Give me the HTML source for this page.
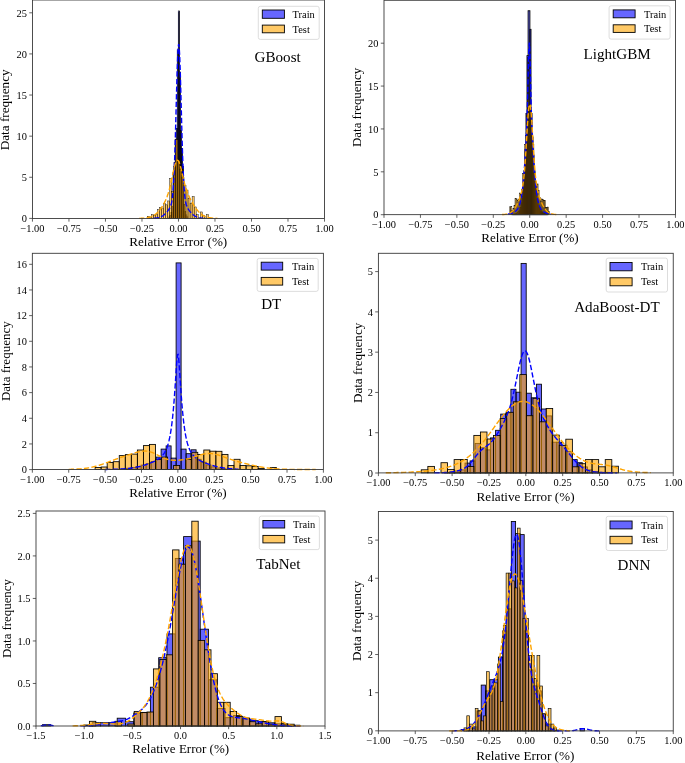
<!DOCTYPE html>
<html><head><meta charset="utf-8"><title>Histograms</title>
<style>
html,body{margin:0;padding:0;background:#fff;}
body{width:685px;height:763px;overflow:hidden;font-family:"Liberation Serif",serif;}
svg{display:block;will-change:transform;font-family:"Liberation Serif",serif;}
.tk text{font-size:10.4px;fill:#000;}
.ax{font-size:13.2px;fill:#000;}
.lg{font-size:10.45px;fill:#000;}
.tt{font-size:15.1px;fill:#000;}
</style></head><body>
<svg width="685" height="763" viewBox="0 0 685 763">
<rect width="685" height="763" fill="#fff"/>
<g>
<clipPath id="c1"><rect x="32.45" y="0" width="292.05" height="218.45"/></clipPath>
<g fill="rgba(0,0,255,0.6)" stroke="#000" stroke-width="0.78"><rect x="178.35" y="11.05" width="1.05" height="207.4"/><rect x="177.3" y="49.95" width="1.05" height="168.5"/><rect x="176.25" y="128.45" width="1.05" height="90"/><rect x="175.2" y="139.45" width="1.05" height="79"/><rect x="174.15" y="162.45" width="1.05" height="56"/><rect x="173.1" y="172.45" width="1.05" height="46"/><rect x="172.05" y="206.45" width="1.05" height="12"/><rect x="171" y="212.45" width="1.05" height="6"/><rect x="169.95" y="215.45" width="1.05" height="3"/><rect x="168.9" y="216.95" width="1.05" height="1.5"/><rect x="179.4" y="72.05" width="1.05" height="146.4"/><rect x="180.45" y="130.45" width="1.05" height="88"/><rect x="181.5" y="148.45" width="1.05" height="70"/><rect x="182.55" y="166.45" width="1.05" height="52"/><rect x="183.6" y="204.45" width="1.05" height="14"/><rect x="184.65" y="211.45" width="1.05" height="7"/><rect x="185.7" y="214.95" width="1.05" height="3.5"/><rect x="186.75" y="216.95" width="1.05" height="1.5"/></g>
<g fill="rgba(255,165,0,0.6)" stroke="#000" stroke-width="0.42"><rect x="147.24" y="216.25" width="2.04" height="2.2"/><rect x="149.28" y="217.65" width="2.04" height="0.8"/><rect x="151.32" y="214.65" width="2.04" height="3.8"/><rect x="153.36" y="215.55" width="2.04" height="2.9"/><rect x="155.4" y="214.65" width="2.04" height="3.8"/><rect x="157.44" y="209.75" width="2.04" height="8.7"/><rect x="159.48" y="207.55" width="2.04" height="10.9"/><rect x="161.52" y="208.05" width="2.04" height="10.4"/><rect x="163.56" y="203.35" width="2.04" height="15.1"/><rect x="165.6" y="204.85" width="2.04" height="13.6"/><rect x="167.64" y="200.95" width="2.04" height="17.5"/><rect x="169.68" y="178.55" width="2.04" height="39.9"/><rect x="171.72" y="191.65" width="2.04" height="26.8"/><rect x="173.76" y="166.45" width="2.04" height="52"/><rect x="175.8" y="139.45" width="2.04" height="79"/><rect x="177.84" y="160.45" width="2.04" height="58"/><rect x="179.88" y="169.75" width="2.04" height="48.7"/><rect x="181.92" y="177.45" width="2.04" height="41"/><rect x="183.96" y="185.65" width="2.04" height="32.8"/><rect x="186" y="190.05" width="2.04" height="28.4"/><rect x="188.04" y="198.25" width="2.04" height="20.2"/><rect x="190.08" y="203.15" width="2.04" height="15.3"/><rect x="192.12" y="196.55" width="2.04" height="21.9"/><rect x="194.16" y="206.95" width="2.04" height="11.5"/><rect x="196.2" y="214.65" width="2.04" height="3.8"/><rect x="198.24" y="217.95" width="2.04" height="0.5"/><rect x="200.28" y="211.95" width="2.04" height="6.5"/><rect x="202.32" y="215.15" width="2.04" height="3.3"/><rect x="204.36" y="217.95" width="2.04" height="0.5"/><rect x="206.4" y="214.65" width="2.04" height="3.8"/><rect x="208.44" y="217.95" width="2.04" height="0.5"/></g>
<polyline fill="none" stroke="#0000ff" stroke-width="1.4" stroke-dasharray="5.3 2.3" points="153.65,218.3 154.15,218.27 154.65,218.24 155.15,218.19 155.65,218.14 156.15,218.08 156.65,218.01 157.15,217.93 157.65,217.84 158.15,217.73 158.65,217.61 159.15,217.47 159.65,217.31 160.15,217.13 160.65,216.93 161.15,216.71 161.65,216.46 162.15,216.18 162.65,215.88 163.15,215.54 163.65,215.18 164.15,214.78 164.65,214.35 165.15,213.89 165.65,213.39 166.15,212.86 166.65,212.3 167.15,211.71 167.65,211.09 168.15,210.44 168.65,209.74 169.15,209 169.65,208.18 170.15,207.23 170.65,206.07 171.15,204.57 171.65,202.53 172.15,199.66 172.65,195.6 173.15,189.94 173.65,182.22 174.15,172.06 174.65,159.25 175.15,143.83 175.65,126.25 176.15,107.37 176.65,88.49 177.15,71.19 177.65,57.11 178.15,47.74 178.65,44.12 179.15,46.68 179.65,55.11 180.15,68.47 180.65,85.34 181.15,104.06 181.65,123.04 182.15,140.92 182.65,156.76 183.15,170.04 183.65,180.64 184.15,188.76 184.65,194.75 185.15,199.05 185.65,202.1 186.15,204.26 186.65,205.84 187.15,207.05 187.65,208.02 188.15,208.86 188.65,209.62 189.15,210.32 189.65,210.98 190.15,211.61 190.65,212.2 191.15,212.77 191.65,213.3 192.15,213.8 192.65,214.27 193.15,214.71 193.65,215.11 194.15,215.48 194.65,215.82 195.15,216.13 195.65,216.41 196.15,216.67 196.65,216.9 197.15,217.1 197.65,217.28 198.15,217.44 198.65,217.59 199.15,217.71 199.65,217.82 200.15,217.92 200.65,218 201.15,218.07 201.65,218.13 202.15,218.18 202.65,218.23 203.15,218.27"/>
<polyline fill="none" stroke="#ffa500" stroke-width="1.4" stroke-dasharray="5.3 2.3" points="139.05,218.37 139.55,218.36 140.05,218.34 140.55,218.33 141.05,218.31 141.55,218.29 142.05,218.26 142.55,218.23 143.05,218.2 143.55,218.16 144.05,218.12 144.55,218.08 145.05,218.02 145.55,217.96 146.05,217.9 146.55,217.82 147.05,217.74 147.55,217.65 148.05,217.55 148.55,217.44 149.05,217.31 149.55,217.17 150.05,217.02 150.55,216.86 151.05,216.68 151.55,216.48 152.05,216.26 152.55,216.03 153.05,215.77 153.55,215.49 154.05,215.2 154.55,214.87 155.05,214.53 155.55,214.16 156.05,213.76 156.55,213.34 157.05,212.89 157.55,212.41 158.05,211.9 158.55,211.37 159.05,210.8 159.55,210.2 160.05,209.58 160.55,208.92 161.05,208.23 161.55,207.51 162.05,206.76 162.55,205.97 163.05,205.15 163.55,204.29 164.05,203.38 164.55,202.43 165.05,201.43 165.55,200.36 166.05,199.23 166.55,198.02 167.05,196.73 167.55,195.33 168.05,193.83 168.55,192.21 169.05,190.47 169.55,188.6 170.05,186.6 170.55,184.49 171.05,182.26 171.55,179.95 172.05,177.58 172.55,175.19 173.05,172.81 173.55,170.5 174.05,168.3 174.55,166.27 175.05,164.46 175.55,162.93 176.05,161.7 176.55,160.83 177.05,160.33 177.55,160.22 178.05,160.49 178.55,161.13 179.05,162.13 179.55,163.43 180.05,165 180.55,166.8 181.05,168.76 181.55,170.85 182.05,172.99 182.55,175.17 183.05,177.32 183.55,179.43 184.05,181.46 184.55,183.4 185.05,185.23 185.55,186.96 186.05,188.58 186.55,190.09 187.05,191.51 187.55,192.84 188.05,194.09 188.55,195.28 189.05,196.4 189.55,197.48 190.05,198.51 190.55,199.5 191.05,200.46 191.55,201.39 192.05,202.29 192.55,203.17 193.05,204.02 193.55,204.84 194.05,205.64 194.55,206.42 195.05,207.17 195.55,207.89 196.05,208.58 196.55,209.25 197.05,209.88 197.55,210.49 198.05,211.07 198.55,211.62 199.05,212.14 199.55,212.64 200.05,213.1 200.55,213.54 201.05,213.95 201.55,214.34 202.05,214.69 202.55,215.03 203.05,215.34 203.55,215.63 204.05,215.89 204.55,216.14 205.05,216.36 205.55,216.57 206.05,216.76 206.55,216.94 207.05,217.1 207.55,217.24 208.05,217.37 208.55,217.49 209.05,217.6 209.55,217.69 210.05,217.78 210.55,217.86 211.05,217.93 211.55,217.99 212.05,218.05 212.55,218.1 213.05,218.14 213.55,218.18 214.05,218.22 214.55,218.25 215.05,218.27 215.55,218.3 216.05,218.32 216.55,218.34 217.05,218.35 217.55,218.37"/>
<g stroke="#3a3a3a" stroke-width="0.8"><line x1="32.45" y1="218.45" x2="32.45" y2="221.65"/><line x1="68.96" y1="218.45" x2="68.96" y2="221.65"/><line x1="105.46" y1="218.45" x2="105.46" y2="221.65"/><line x1="141.97" y1="218.45" x2="141.97" y2="221.65"/><line x1="178.48" y1="218.45" x2="178.48" y2="221.65"/><line x1="214.98" y1="218.45" x2="214.98" y2="221.65"/><line x1="251.49" y1="218.45" x2="251.49" y2="221.65"/><line x1="287.99" y1="218.45" x2="287.99" y2="221.65"/><line x1="324.5" y1="218.45" x2="324.5" y2="221.65"/><line x1="29.25" y1="218.4" x2="32.45" y2="218.4"/><line x1="29.25" y1="177.28" x2="32.45" y2="177.28"/><line x1="29.25" y1="136.16" x2="32.45" y2="136.16"/><line x1="29.25" y1="95.04" x2="32.45" y2="95.04"/><line x1="29.25" y1="53.92" x2="32.45" y2="53.92"/><line x1="29.25" y1="12.8" x2="32.45" y2="12.8"/></g>
<rect x="32.45" y="0" width="292.05" height="218.45" fill="none" stroke="#3a3a3a" stroke-width="0.9"/>
<g class="tk"><text x="32.45" y="231.85" text-anchor="middle">−1.00</text><text x="68.96" y="231.85" text-anchor="middle">−0.75</text><text x="105.46" y="231.85" text-anchor="middle">−0.50</text><text x="141.97" y="231.85" text-anchor="middle">−0.25</text><text x="178.48" y="231.85" text-anchor="middle">0.00</text><text x="214.98" y="231.85" text-anchor="middle">0.25</text><text x="251.49" y="231.85" text-anchor="middle">0.50</text><text x="287.99" y="231.85" text-anchor="middle">0.75</text><text x="324.5" y="231.85" text-anchor="middle">1.00</text><text x="26.95" y="222.1" text-anchor="end">0</text><text x="26.95" y="180.98" text-anchor="end">5</text><text x="26.95" y="139.86" text-anchor="end">10</text><text x="26.95" y="98.74" text-anchor="end">15</text><text x="26.95" y="57.62" text-anchor="end">20</text><text x="26.95" y="16.5" text-anchor="end">25</text></g>
<text class="ax" style="font-size:13.2px" x="178.2" y="246.2" text-anchor="middle">Relative Error (%)</text>
<text class="ax" style="font-size:13.2px" transform="translate(9.3,109.85) rotate(-90)" text-anchor="middle">Data frequency</text>
<rect x="258.3" y="6.3" width="60.9" height="33.1" rx="2" ry="2" fill="#fff" fill-opacity="0.8" stroke="#d4d4d4" stroke-width="0.8"/>
<rect x="262.3" y="10" width="22.1" height="8.3" fill="rgba(0,0,255,0.6)" stroke="#000" stroke-width="0.9"/>
<rect x="262.3" y="25.1" width="22.1" height="7.7" fill="rgba(255,165,0,0.6)" stroke="#000" stroke-width="0.9"/>
<text class="lg" x="292.6" y="18">Train</text>
<text class="lg" x="292.6" y="32.6">Test</text>
<text class="tt" x="254.6" y="62">GBoost</text>
</g>
<g>
<clipPath id="c2"><rect x="384" y="0.3" width="291.45" height="214.35"/></clipPath>
<g fill="rgba(0,0,255,0.6)" stroke="#000" stroke-width="0.9"><rect x="528.1" y="10.75" width="1.8" height="203.9"/><rect x="529.9" y="29.35" width="1.1" height="185.3"/><rect x="527" y="55.65" width="1.1" height="159"/><rect x="526" y="113.5" width="1" height="101.15"/><rect x="525" y="149.43" width="1" height="65.22"/><rect x="524" y="170.69" width="1" height="43.96"/><rect x="523" y="186.64" width="1" height="28.01"/><rect x="522" y="196.71" width="1" height="17.94"/><rect x="521" y="203.04" width="1" height="11.61"/><rect x="520" y="207.51" width="1" height="7.14"/><rect x="519" y="210.08" width="1" height="4.57"/><rect x="518" y="211.67" width="1" height="2.98"/><rect x="517" y="212.68" width="1" height="1.97"/><rect x="516" y="213.45" width="1" height="1.2"/><rect x="515" y="213.9" width="1" height="0.75"/><rect x="514" y="214.2" width="1" height="0.45"/><rect x="513" y="214.35" width="1" height="0.3"/><rect x="512" y="214.45" width="1" height="0.2"/><rect x="531" y="113.52" width="1" height="101.13"/><rect x="532" y="136.96" width="1" height="77.69"/><rect x="533" y="155.1" width="1" height="59.55"/><rect x="534" y="170.86" width="1" height="43.79"/><rect x="535" y="182.62" width="1" height="32.03"/><rect x="536" y="192.68" width="1" height="21.97"/><rect x="537" y="199.9" width="1" height="14.75"/><rect x="538" y="203.99" width="1" height="10.66"/><rect x="539" y="207.44" width="1" height="7.21"/><rect x="540" y="209.68" width="1" height="4.97"/><rect x="541" y="211.2" width="1" height="3.45"/><rect x="542" y="212.33" width="1" height="2.32"/><rect x="543" y="212.99" width="1" height="1.66"/><rect x="544" y="213.46" width="1" height="1.19"/><rect x="545" y="213.75" width="1" height="0.9"/><rect x="546" y="214" width="1" height="0.65"/><rect x="547" y="214.18" width="1" height="0.47"/></g>
<g fill="rgba(255,165,0,0.6)" stroke="#000" stroke-width="0.42"><rect x="509.75" y="206.85" width="1.05" height="7.8"/><rect x="510.8" y="206.67" width="1.05" height="7.98"/><rect x="511.85" y="210.38" width="1.05" height="4.27"/><rect x="512.9" y="208.34" width="1.05" height="6.31"/><rect x="513.95" y="205.31" width="1.05" height="9.34"/><rect x="515" y="198.5" width="1.05" height="16.15"/><rect x="516.05" y="198.83" width="1.05" height="15.82"/><rect x="517.1" y="200.64" width="1.05" height="14.01"/><rect x="518.15" y="199.12" width="1.05" height="15.53"/><rect x="519.2" y="193" width="1.05" height="21.65"/><rect x="520.25" y="194.09" width="1.05" height="20.56"/><rect x="521.3" y="189.49" width="1.05" height="25.16"/><rect x="522.35" y="173.69" width="1.05" height="40.96"/><rect x="523.4" y="173.89" width="1.05" height="40.76"/><rect x="524.45" y="144.43" width="1.05" height="70.22"/><rect x="525.5" y="135.31" width="1.05" height="79.34"/><rect x="526.55" y="114.02" width="1.05" height="100.63"/><rect x="527.6" y="99.34" width="1.05" height="115.31"/><rect x="528.65" y="105.74" width="1.05" height="108.91"/><rect x="529.7" y="104.52" width="1.05" height="110.13"/><rect x="530.75" y="111.02" width="1.05" height="103.63"/><rect x="531.8" y="135.02" width="1.05" height="79.63"/><rect x="532.85" y="144.42" width="1.05" height="70.23"/><rect x="533.9" y="172.44" width="1.05" height="42.21"/><rect x="534.95" y="181.35" width="1.05" height="33.3"/><rect x="536" y="184.35" width="1.05" height="30.3"/><rect x="537.05" y="183.93" width="1.05" height="30.72"/><rect x="538.1" y="190.67" width="1.05" height="23.98"/><rect x="539.15" y="197.47" width="1.05" height="17.18"/><rect x="540.2" y="200.81" width="1.05" height="13.84"/><rect x="541.25" y="198.89" width="1.05" height="15.76"/><rect x="542.3" y="199.32" width="1.05" height="15.33"/><rect x="543.35" y="200.64" width="1.05" height="14.01"/><rect x="544.4" y="200.38" width="1.05" height="14.27"/><rect x="545.45" y="207.68" width="1.05" height="6.97"/><rect x="546.5" y="207.75" width="1.05" height="6.9"/><rect x="547.55" y="207.03" width="1.05" height="7.62"/><rect x="548.6" y="211.59" width="1.05" height="3.06"/></g>
<polyline fill="none" stroke="#0000ff" stroke-width="1.4" stroke-dasharray="5.3 2.3" points="507.87,214.07 508.37,214 508.87,213.92 509.37,213.83 509.87,213.73 510.37,213.62 510.87,213.49 511.37,213.35 511.87,213.2 512.37,213.02 512.87,212.82 513.37,212.6 513.87,212.35 514.37,212.06 514.87,211.74 515.37,211.38 515.87,210.96 516.37,210.49 516.87,209.94 517.37,209.3 517.87,208.54 518.37,207.65 518.87,206.59 519.37,205.32 519.87,203.79 520.37,201.94 520.87,199.73 521.37,197.07 521.87,193.91 522.37,190.18 522.87,185.83 523.37,180.82 523.87,175.13 524.37,168.76 524.87,161.72 525.37,153.99 525.87,145.41 526.37,135.43 526.87,123.01 527.37,106.92 527.87,86.94 528.37,65.47 528.87,48.05 529.37,42.51 529.87,52.63 530.37,72.09 530.87,93.55 531.37,112.41 531.87,127.25 532.37,138.76 532.87,148.22 533.37,156.49 533.87,164 534.37,170.83 534.87,176.99 535.37,182.47 535.87,187.27 536.37,191.42 536.87,194.96 537.37,197.96 537.87,200.47 538.37,202.56 538.87,204.3 539.37,205.74 539.87,206.94 540.37,207.95 540.87,208.79 541.37,209.51 541.87,210.12 542.37,210.64 542.87,211.1 543.37,211.5 543.87,211.85 544.37,212.16 544.87,212.43 545.37,212.67 545.87,212.89 546.37,213.08 546.87,213.25 547.37,213.4 547.87,213.53 548.37,213.65 548.87,213.76 549.37,213.86 549.87,213.94 550.37,214.02 550.87,214.09 551.37,214.15"/>
<polyline fill="none" stroke="#ffa500" stroke-width="1.4" stroke-dasharray="5.3 2.3" points="502.04,214.56 502.54,214.54 503.04,214.51 503.54,214.48 504.04,214.44 504.54,214.39 505.04,214.34 505.54,214.27 506.04,214.19 506.54,214.1 507.04,213.99 507.54,213.87 508.04,213.72 508.54,213.56 509.04,213.36 509.54,213.14 510.04,212.89 510.54,212.6 511.04,212.27 511.54,211.91 512.04,211.5 512.54,211.04 513.04,210.53 513.54,209.97 514.04,209.35 514.54,208.67 515.04,207.93 515.54,207.13 516.04,206.27 516.54,205.35 517.04,204.36 517.54,203.3 518.04,202.19 518.54,201.01 519.04,199.76 519.54,198.43 520.04,197.01 520.54,195.46 521.04,193.76 521.54,191.83 522.04,189.61 522.54,186.99 523.04,183.86 523.54,180.08 524.04,175.54 524.54,170.14 525.04,163.83 525.54,156.66 526.04,148.75 526.54,140.36 527.04,131.84 527.54,123.67 528.04,116.34 528.54,110.37 529.04,106.21 529.54,104.2 530.04,104.49 530.54,107.06 531.04,111.7 531.54,118.06 532.04,125.64 532.54,133.95 533.04,142.47 533.54,150.77 534.04,158.52 534.54,165.49 535.04,171.57 535.54,176.75 536.04,181.09 536.54,184.7 537.04,187.69 537.54,190.2 538.04,192.34 538.54,194.2 539.04,195.86 539.54,197.37 540.04,198.77 540.54,200.08 541.04,201.31 541.54,202.47 542.04,203.57 542.54,204.61 543.04,205.58 543.54,206.49 544.04,207.34 544.54,208.12 545.04,208.84 545.54,209.51 546.04,210.11 546.54,210.66 547.04,211.16 547.54,211.6 548.04,212 548.54,212.36 549.04,212.67 549.54,212.95 550.04,213.2 550.54,213.41 551.04,213.6 551.54,213.76 552.04,213.9 552.54,214.02 553.04,214.13 553.54,214.21 554.04,214.29 554.54,214.35 555.04,214.4 555.54,214.45 556.04,214.49 556.54,214.52 557.04,214.54"/>
<g stroke="#3a3a3a" stroke-width="0.8"><line x1="384" y1="214.65" x2="384" y2="217.85"/><line x1="420.43" y1="214.65" x2="420.43" y2="217.85"/><line x1="456.86" y1="214.65" x2="456.86" y2="217.85"/><line x1="493.29" y1="214.65" x2="493.29" y2="217.85"/><line x1="529.73" y1="214.65" x2="529.73" y2="217.85"/><line x1="566.16" y1="214.65" x2="566.16" y2="217.85"/><line x1="602.59" y1="214.65" x2="602.59" y2="217.85"/><line x1="639.02" y1="214.65" x2="639.02" y2="217.85"/><line x1="675.45" y1="214.65" x2="675.45" y2="217.85"/><line x1="380.8" y1="214.7" x2="384" y2="214.7"/><line x1="380.8" y1="171.82" x2="384" y2="171.82"/><line x1="380.8" y1="128.95" x2="384" y2="128.95"/><line x1="380.8" y1="86.07" x2="384" y2="86.07"/><line x1="380.8" y1="43.2" x2="384" y2="43.2"/></g>
<rect x="384" y="0.3" width="291.45" height="214.35" fill="none" stroke="#3a3a3a" stroke-width="0.9"/>
<g class="tk"><text x="384" y="228.05" text-anchor="middle">−1.00</text><text x="420.43" y="228.05" text-anchor="middle">−0.75</text><text x="456.86" y="228.05" text-anchor="middle">−0.50</text><text x="493.29" y="228.05" text-anchor="middle">−0.25</text><text x="529.73" y="228.05" text-anchor="middle">0.00</text><text x="566.16" y="228.05" text-anchor="middle">0.25</text><text x="602.59" y="228.05" text-anchor="middle">0.50</text><text x="639.02" y="228.05" text-anchor="middle">0.75</text><text x="675.45" y="228.05" text-anchor="middle">1.00</text><text x="378.5" y="218.4" text-anchor="end">0</text><text x="378.5" y="175.52" text-anchor="end">5</text><text x="378.5" y="132.65" text-anchor="end">10</text><text x="378.5" y="89.77" text-anchor="end">15</text><text x="378.5" y="46.9" text-anchor="end">20</text></g>
<text class="ax" style="font-size:13.1px" x="530" y="242" text-anchor="middle">Relative Error (%)</text>
<text class="ax" style="font-size:12.9px" transform="translate(361.3,107.4) rotate(-90)" text-anchor="middle">Data frequency</text>
<rect x="609.1" y="5.8" width="61" height="33.3" rx="2" ry="2" fill="#fff" fill-opacity="0.8" stroke="#d4d4d4" stroke-width="0.8"/>
<rect x="613.2" y="9.9" width="21.9" height="7.9" fill="rgba(0,0,255,0.6)" stroke="#000" stroke-width="0.9"/>
<rect x="613.2" y="24.8" width="21.9" height="7.6" fill="rgba(255,165,0,0.6)" stroke="#000" stroke-width="0.9"/>
<text class="lg" x="644.1" y="17.8">Train</text>
<text class="lg" x="644.1" y="32.4">Test</text>
<text class="tt" x="583.6" y="58.7">LightGBM</text>
</g>
<g>
<clipPath id="c3"><rect x="32.35" y="253.3" width="291.05" height="216.2"/></clipPath>
<g fill="rgba(0,0,255,0.6)" stroke="#000" stroke-width="0.85"><rect x="176.1" y="262.9" width="5" height="206.6"/><rect x="171.1" y="458.1" width="5" height="11.4"/><rect x="166.1" y="445.9" width="5" height="23.6"/><rect x="161.1" y="449.1" width="5" height="20.4"/><rect x="156.1" y="457.1" width="5" height="12.4"/><rect x="151.1" y="461.5" width="5" height="8"/><rect x="146.1" y="463.7" width="5" height="5.8"/><rect x="141.1" y="465.1" width="5" height="4.4"/><rect x="136.1" y="466.5" width="5" height="3"/><rect x="131.1" y="467.5" width="5" height="2"/><rect x="126.1" y="468.3" width="5" height="1.2"/><rect x="121.1" y="468.9" width="5" height="0.6"/><rect x="181.1" y="449.1" width="5" height="20.4"/><rect x="186.1" y="453.7" width="5" height="15.8"/><rect x="191.1" y="449.8" width="5" height="19.7"/><rect x="196.1" y="459.3" width="5" height="10.2"/><rect x="201.1" y="462.2" width="5" height="7.3"/><rect x="206.1" y="465.1" width="5" height="4.4"/><rect x="211.1" y="466.9" width="5" height="2.6"/><rect x="216.1" y="468" width="5" height="1.5"/><rect x="221.1" y="468.7" width="5" height="0.8"/></g>
<g fill="rgba(255,165,0,0.6)" stroke="#000" stroke-width="0.85"><rect x="95.1" y="467.5" width="6.04" height="2"/><rect x="101.14" y="467" width="6.04" height="2.5"/><rect x="107.18" y="462.5" width="6.04" height="7"/><rect x="113.22" y="461.7" width="6.04" height="7.8"/><rect x="119.26" y="455.6" width="6.04" height="13.9"/><rect x="125.3" y="454.6" width="6.04" height="14.9"/><rect x="131.34" y="454.1" width="6.04" height="15.4"/><rect x="137.38" y="450" width="6.04" height="19.5"/><rect x="143.42" y="445.6" width="6.04" height="23.9"/><rect x="149.46" y="444.4" width="6.04" height="25.1"/><rect x="155.5" y="459.3" width="6.04" height="10.2"/><rect x="161.54" y="457.1" width="6.04" height="12.4"/><rect x="173.62" y="465.5" width="6.04" height="4"/><rect x="185.7" y="459.3" width="6.04" height="10.2"/><rect x="191.74" y="452.3" width="6.04" height="17.2"/><rect x="197.78" y="454.5" width="6.04" height="15"/><rect x="203.82" y="450" width="6.04" height="19.5"/><rect x="209.86" y="451.2" width="6.04" height="18.3"/><rect x="215.9" y="451.3" width="6.04" height="18.2"/><rect x="221.94" y="454.4" width="6.04" height="15.1"/><rect x="227.98" y="465.5" width="6.04" height="4"/><rect x="234.02" y="459.3" width="6.04" height="10.2"/><rect x="240.06" y="465.5" width="6.04" height="4"/><rect x="246.1" y="465.8" width="6.04" height="3.7"/><rect x="252.14" y="466.5" width="6.04" height="3"/><rect x="258.18" y="468.5" width="6.04" height="1"/><rect x="270.26" y="467.5" width="6.04" height="2"/></g>
<polyline fill="none" stroke="#0000ff" stroke-width="1.4" stroke-dasharray="5.3 2.3" points="105.11,469.45 105.61,469.44 106.11,469.44 106.61,469.43 107.11,469.43 107.61,469.42 108.11,469.41 108.61,469.41 109.11,469.4 109.61,469.39 110.11,469.39 110.61,469.38 111.11,469.37 111.61,469.36 112.11,469.35 112.61,469.34 113.11,469.33 113.61,469.31 114.11,469.3 114.61,469.29 115.11,469.27 115.61,469.26 116.11,469.24 116.61,469.22 117.11,469.21 117.61,469.19 118.11,469.17 118.61,469.15 119.11,469.12 119.61,469.1 120.11,469.07 120.61,469.05 121.11,469.02 121.61,468.99 122.11,468.96 122.61,468.93 123.11,468.89 123.61,468.86 124.11,468.82 124.61,468.78 125.11,468.74 125.61,468.7 126.11,468.65 126.61,468.6 127.11,468.55 127.61,468.5 128.11,468.45 128.61,468.39 129.11,468.34 129.61,468.27 130.11,468.21 130.61,468.14 131.11,468.08 131.61,468 132.11,467.93 132.61,467.85 133.11,467.77 133.61,467.69 134.11,467.61 134.61,467.52 135.11,467.43 135.61,467.33 136.11,467.23 136.61,467.13 137.11,467.03 137.61,466.92 138.11,466.81 138.61,466.69 139.11,466.57 139.61,466.45 140.11,466.33 140.61,466.2 141.11,466.07 141.61,465.93 142.11,465.79 142.61,465.65 143.11,465.51 143.61,465.36 144.11,465.2 144.61,465.05 145.11,464.89 145.61,464.72 146.11,464.56 146.61,464.38 147.11,464.21 147.61,464.03 148.11,463.85 148.61,463.66 149.11,463.47 149.61,463.28 150.11,463.08 150.61,462.88 151.11,462.67 151.61,462.46 152.11,462.24 152.61,462.02 153.11,461.8 153.61,461.57 154.11,461.33 154.61,461.08 155.11,460.83 155.61,460.57 156.11,460.3 156.61,460.02 157.11,459.73 157.61,459.43 158.11,459.12 158.61,458.79 159.11,458.44 159.61,458.07 160.11,457.68 160.61,457.27 161.11,456.82 161.61,456.35 162.11,455.83 162.61,455.28 163.11,454.67 163.61,454.02 164.11,453.3 164.61,452.51 165.11,451.64 165.61,450.69 166.11,449.63 166.61,448.45 167.11,447.14 167.61,445.69 168.11,444.06 168.61,442.24 169.11,440.21 169.61,437.93 170.11,435.38 170.61,432.52 171.11,429.32 171.61,425.73 172.11,421.72 172.61,417.24 173.11,412.24 173.61,406.7 174.11,400.58 174.61,393.9 175.11,386.68 175.61,379.08 176.11,371.35 176.61,364.05 177.11,358.05 177.61,354.52 178.11,354.43 178.61,357.81 179.11,363.71 179.61,370.97 180.11,378.69 180.61,386.31 181.11,393.55 181.61,400.26 182.11,406.41 182.61,411.98 183.11,417 183.61,421.51 184.11,425.54 184.61,429.15 185.11,432.37 185.61,435.25 186.11,437.81 186.61,440.1 187.11,442.15 187.61,443.97 188.11,445.61 188.61,447.07 189.11,448.39 189.61,449.57 190.11,450.64 190.61,451.6 191.11,452.47 191.61,453.26 192.11,453.98 192.61,454.64 193.11,455.25 193.61,455.81 194.11,456.32 194.61,456.8 195.11,457.24 195.61,457.66 196.11,458.05 196.61,458.42 197.11,458.77 197.61,459.1 198.11,459.42 198.61,459.72 199.11,460.01 199.61,460.29 200.11,460.56 200.61,460.82 201.11,461.07 201.61,461.32 202.11,461.55 202.61,461.79 203.11,462.01 203.61,462.23 204.11,462.45 204.61,462.66 205.11,462.87 205.61,463.07 206.11,463.27 206.61,463.46 207.11,463.65 207.61,463.84 208.11,464.02 208.61,464.2 209.11,464.38 209.61,464.55 210.11,464.71 210.61,464.88 211.11,465.04 211.61,465.2 212.11,465.35 212.61,465.5 213.11,465.64 213.61,465.79 214.11,465.93 214.61,466.06 215.11,466.19 215.61,466.32 216.11,466.45 216.61,466.57 217.11,466.69 217.61,466.8 218.11,466.91 218.61,467.02 219.11,467.13 219.61,467.23 220.11,467.33 220.61,467.42 221.11,467.51 221.61,467.6 222.11,467.69 222.61,467.77 223.11,467.85 223.61,467.93 224.11,468 224.61,468.07 225.11,468.14 225.61,468.21 226.11,468.27 226.61,468.33 227.11,468.39 227.61,468.45 228.11,468.5 228.61,468.55 229.11,468.6 229.61,468.65 230.11,468.69 230.61,468.74 231.11,468.78 231.61,468.82 232.11,468.86 232.61,468.89 233.11,468.93 233.61,468.96 234.11,468.99 234.61,469.02 235.11,469.05 235.61,469.07 236.11,469.1 236.61,469.12 237.11,469.14 237.61,469.17 238.11,469.19 238.61,469.21"/>
<polyline fill="none" stroke="#ffa500" stroke-width="1.4" stroke-dasharray="5.3 2.3" points="68.73,469.38 69.23,469.37 69.73,469.36 70.23,469.34 70.73,469.33 71.23,469.32 71.73,469.31 72.23,469.29 72.73,469.27 73.23,469.26 73.73,469.24 74.23,469.22 74.73,469.2 75.23,469.18 75.73,469.15 76.23,469.13 76.73,469.1 77.23,469.07 77.73,469.04 78.23,469.01 78.73,468.98 79.23,468.94 79.73,468.91 80.23,468.87 80.73,468.83 81.23,468.78 81.73,468.74 82.23,468.69 82.73,468.64 83.23,468.59 83.73,468.53 84.23,468.48 84.73,468.42 85.23,468.35 85.73,468.29 86.23,468.22 86.73,468.15 87.23,468.07 87.73,467.99 88.23,467.91 88.73,467.83 89.23,467.74 89.73,467.65 90.23,467.56 90.73,467.46 91.23,467.36 91.73,467.25 92.23,467.14 92.73,467.03 93.23,466.92 93.73,466.8 94.23,466.68 94.73,466.55 95.23,466.42 95.73,466.29 96.23,466.16 96.73,466.02 97.23,465.87 97.73,465.73 98.23,465.58 98.73,465.43 99.23,465.27 99.73,465.12 100.23,464.95 100.73,464.79 101.23,464.62 101.73,464.46 102.23,464.29 102.73,464.11 103.23,463.94 103.73,463.76 104.23,463.58 104.73,463.4 105.23,463.21 105.73,463.03 106.23,462.84 106.73,462.66 107.23,462.47 107.73,462.28 108.23,462.09 108.73,461.9 109.23,461.71 109.73,461.52 110.23,461.33 110.73,461.14 111.23,460.95 111.73,460.76 112.23,460.57 112.73,460.38 113.23,460.2 113.73,460.01 114.23,459.82 114.73,459.64 115.23,459.45 115.73,459.27 116.23,459.09 116.73,458.9 117.23,458.72 117.73,458.54 118.23,458.37 118.73,458.19 119.23,458.01 119.73,457.84 120.23,457.66 120.73,457.49 121.23,457.32 121.73,457.15 122.23,456.98 122.73,456.81 123.23,456.64 123.73,456.47 124.23,456.3 124.73,456.13 125.23,455.96 125.73,455.8 126.23,455.63 126.73,455.46 127.23,455.29 127.73,455.13 128.23,454.96 128.73,454.79 129.23,454.63 129.73,454.46 130.23,454.3 130.73,454.13 131.23,453.97 131.73,453.81 132.23,453.64 132.73,453.48 133.23,453.32 133.73,453.17 134.23,453.01 134.73,452.86 135.23,452.71 135.73,452.56 136.23,452.42 136.73,452.28 137.23,452.15 137.73,452.02 138.23,451.89 138.73,451.78 139.23,451.67 139.73,451.56 140.23,451.47 140.73,451.38 141.23,451.3 141.73,451.23 142.23,451.17 142.73,451.12 143.23,451.08 143.73,451.05 144.23,451.04 144.73,451.03 145.23,451.04 145.73,451.06 146.23,451.1 146.73,451.14 147.23,451.2 147.73,451.27 148.23,451.36 148.73,451.46 149.23,451.57 149.73,451.7 150.23,451.84 150.73,451.99 151.23,452.15 151.73,452.32 152.23,452.51 152.73,452.7 153.23,452.91 153.73,453.13 154.23,453.35 154.73,453.58 155.23,453.82 155.73,454.06 156.23,454.31 156.73,454.57 157.23,454.83 157.73,455.09 158.23,455.35 158.73,455.61 159.23,455.87 159.73,456.13 160.23,456.39 160.73,456.64 161.23,456.89 161.73,457.13 162.23,457.37 162.73,457.6 163.23,457.82 163.73,458.04 164.23,458.24 164.73,458.44 165.23,458.63 165.73,458.8 166.23,458.97 166.73,459.13 167.23,459.27 167.73,459.41 168.23,459.53 168.73,459.64 169.23,459.74 169.73,459.83 170.23,459.91 170.73,459.99 171.23,460.05 171.73,460.1 172.23,460.14 172.73,460.18 173.23,460.21 173.73,460.23 174.23,460.24 174.73,460.25 175.23,460.25 175.73,460.24 176.23,460.23 176.73,460.22 177.23,460.2 177.73,460.17 178.23,460.15 178.73,460.11 179.23,460.08 179.73,460.04 180.23,459.99 180.73,459.95 181.23,459.9 181.73,459.84 182.23,459.78 182.73,459.72 183.23,459.65 183.73,459.58 184.23,459.51 184.73,459.43 185.23,459.34 185.73,459.25 186.23,459.16 186.73,459.06 187.23,458.95 187.73,458.84 188.23,458.73 188.73,458.6 189.23,458.48 189.73,458.34 190.23,458.21 190.73,458.06 191.23,457.91 191.73,457.76 192.23,457.6 192.73,457.44 193.23,457.28 193.73,457.11 194.23,456.94 194.73,456.77 195.23,456.59 195.73,456.42 196.23,456.24 196.73,456.07 197.23,455.89 197.73,455.72 198.23,455.55 198.73,455.38 199.23,455.21 199.73,455.05 200.23,454.9 200.73,454.75 201.23,454.6 201.73,454.46 202.23,454.33 202.73,454.21 203.23,454.09 203.73,453.99 204.23,453.89 204.73,453.8 205.23,453.72 205.73,453.65 206.23,453.59 206.73,453.54 207.23,453.5 207.73,453.47 208.23,453.45 208.73,453.44 209.23,453.44 209.73,453.45 210.23,453.48 210.73,453.51 211.23,453.55 211.73,453.6 212.23,453.66 212.73,453.73 213.23,453.81 213.73,453.9 214.23,454 214.73,454.1 215.23,454.21 215.73,454.33 216.23,454.46 216.73,454.59 217.23,454.73 217.73,454.87 218.23,455.02 218.73,455.17 219.23,455.33 219.73,455.49 220.23,455.66 220.73,455.83 221.23,456 221.73,456.17 222.23,456.35 222.73,456.52 223.23,456.7 223.73,456.88 224.23,457.06 224.73,457.24 225.23,457.42 225.73,457.61 226.23,457.79 226.73,457.97 227.23,458.15 227.73,458.32 228.23,458.5 228.73,458.68 229.23,458.85 229.73,459.03 230.23,459.2 230.73,459.37 231.23,459.54 231.73,459.7 232.23,459.87 232.73,460.03 233.23,460.19 233.73,460.35 234.23,460.5 234.73,460.66 235.23,460.81 235.73,460.96 236.23,461.11 236.73,461.26 237.23,461.41 237.73,461.55 238.23,461.69 238.73,461.84 239.23,461.98 239.73,462.11 240.23,462.25 240.73,462.39 241.23,462.52 241.73,462.65 242.23,462.78 242.73,462.91 243.23,463.04 243.73,463.17 244.23,463.3 244.73,463.42 245.23,463.55 245.73,463.67 246.23,463.8 246.73,463.92 247.23,464.04 247.73,464.16 248.23,464.28 248.73,464.4 249.23,464.52 249.73,464.63 250.23,464.75 250.73,464.87 251.23,464.98 251.73,465.09 252.23,465.2 252.73,465.31 253.23,465.42 253.73,465.53 254.23,465.64 254.73,465.75 255.23,465.85 255.73,465.96 256.23,466.06 256.73,466.16 257.23,466.26 257.73,466.36 258.23,466.45 258.73,466.55 259.23,466.64 259.73,466.74 260.23,466.83 260.73,466.92 261.23,467 261.73,467.09 262.23,467.17 262.73,467.26 263.23,467.34 263.73,467.42 264.23,467.49 264.73,467.57 265.23,467.64 265.73,467.71 266.23,467.78 266.73,467.85 267.23,467.92 267.73,467.98 268.23,468.05 268.73,468.11 269.23,468.17 269.73,468.22 270.23,468.28 270.73,468.33 271.23,468.39 271.73,468.44 272.23,468.48 272.73,468.53 273.23,468.58 273.73,468.62 274.23,468.66 274.73,468.7 275.23,468.74 275.73,468.78 276.23,468.82 276.73,468.85 277.23,468.89 277.73,468.92 278.23,468.95 278.73,468.98 279.23,469.01 279.73,469.03 280.23,469.06 280.73,469.08 281.23,469.11 281.73,469.13 282.23,469.15 282.73,469.17 283.23,469.19 283.73,469.21 284.23,469.22 284.73,469.24 285.23,469.26 285.73,469.27 286.23,469.29 286.73,469.3 287.23,469.31 287.73,469.32 288.23,469.33 288.73,469.35 289.23,469.36 289.73,469.36 290.23,469.37 290.73,469.38 291.23,469.39 291.73,469.4 292.23,469.4 292.73,469.41 293.23,469.42 293.73,469.42 294.23,469.43 294.73,469.43 295.23,469.44 295.73,469.44 296.23,469.45 296.73,469.45 297.23,469.45 297.73,469.46 298.23,469.46 298.73,469.46 299.23,469.47 299.73,469.47 300.23,469.47 300.73,469.47 301.23,469.48 301.73,469.48 302.23,469.48 302.73,469.48 303.23,469.48 303.73,469.48 304.23,469.49 304.73,469.49 305.23,469.49 305.73,469.49 306.23,469.49 306.73,469.49 307.23,469.49 307.73,469.49 308.23,469.49 308.73,469.49 309.23,469.49 309.73,469.49 310.23,469.5 310.73,469.5 311.23,469.5 311.73,469.5 312.23,469.5 312.73,469.5 313.23,469.5 313.73,469.5 314.23,469.5 314.73,469.5 315.23,469.5 315.73,469.5"/>
<g stroke="#3a3a3a" stroke-width="0.8"><line x1="32.35" y1="469.5" x2="32.35" y2="472.7"/><line x1="68.73" y1="469.5" x2="68.73" y2="472.7"/><line x1="105.11" y1="469.5" x2="105.11" y2="472.7"/><line x1="141.49" y1="469.5" x2="141.49" y2="472.7"/><line x1="177.87" y1="469.5" x2="177.87" y2="472.7"/><line x1="214.26" y1="469.5" x2="214.26" y2="472.7"/><line x1="250.64" y1="469.5" x2="250.64" y2="472.7"/><line x1="287.02" y1="469.5" x2="287.02" y2="472.7"/><line x1="323.4" y1="469.5" x2="323.4" y2="472.7"/><line x1="29.15" y1="469.6" x2="32.35" y2="469.6"/><line x1="29.15" y1="443.94" x2="32.35" y2="443.94"/><line x1="29.15" y1="418.28" x2="32.35" y2="418.28"/><line x1="29.15" y1="392.61" x2="32.35" y2="392.61"/><line x1="29.15" y1="366.95" x2="32.35" y2="366.95"/><line x1="29.15" y1="341.29" x2="32.35" y2="341.29"/><line x1="29.15" y1="315.62" x2="32.35" y2="315.62"/><line x1="29.15" y1="289.96" x2="32.35" y2="289.96"/><line x1="29.15" y1="264.3" x2="32.35" y2="264.3"/></g>
<rect x="32.35" y="253.3" width="291.05" height="216.2" fill="none" stroke="#3a3a3a" stroke-width="0.9"/>
<g class="tk"><text x="32.35" y="482.9" text-anchor="middle">−1.00</text><text x="68.73" y="482.9" text-anchor="middle">−0.75</text><text x="105.11" y="482.9" text-anchor="middle">−0.50</text><text x="141.49" y="482.9" text-anchor="middle">−0.25</text><text x="177.87" y="482.9" text-anchor="middle">0.00</text><text x="214.26" y="482.9" text-anchor="middle">0.25</text><text x="250.64" y="482.9" text-anchor="middle">0.50</text><text x="287.02" y="482.9" text-anchor="middle">0.75</text><text x="323.4" y="482.9" text-anchor="middle">1.00</text><text x="26.85" y="473.3" text-anchor="end">0</text><text x="26.85" y="447.64" text-anchor="end">2</text><text x="26.85" y="421.98" text-anchor="end">4</text><text x="26.85" y="396.31" text-anchor="end">6</text><text x="26.85" y="370.65" text-anchor="end">8</text><text x="26.85" y="344.99" text-anchor="end">10</text><text x="26.85" y="319.32" text-anchor="end">12</text><text x="26.85" y="293.66" text-anchor="end">14</text><text x="26.85" y="268" text-anchor="end">16</text></g>
<text class="ax" style="font-size:13.1px" x="178" y="497.3" text-anchor="middle">Relative Error (%)</text>
<text class="ax" style="font-size:13px" transform="translate(9.6,361.2) rotate(-90)" text-anchor="middle">Data frequency</text>
<rect x="257.2" y="258.4" width="61" height="33" rx="2" ry="2" fill="#fff" fill-opacity="0.8" stroke="#d4d4d4" stroke-width="0.8"/>
<rect x="261.2" y="262.2" width="21.5" height="7.9" fill="rgba(0,0,255,0.6)" stroke="#000" stroke-width="0.9"/>
<rect x="261.2" y="277.4" width="21.5" height="7.7" fill="rgba(255,165,0,0.6)" stroke="#000" stroke-width="0.9"/>
<text class="lg" x="291.9" y="269.8">Train</text>
<text class="lg" x="291.9" y="284.7">Test</text>
<text class="tt" x="261.2" y="309.2">DT</text>
</g>
<g>
<clipPath id="c4"><rect x="378.4" y="253.3" width="294.85" height="219.6"/></clipPath>
<g fill="rgba(0,0,255,0.6)" stroke="#000" stroke-width="0.85"><rect x="521.1" y="263.4" width="5.1" height="209.5"/><rect x="516" y="392.2" width="5.1" height="80.7"/><rect x="510.9" y="389.3" width="5.1" height="83.6"/><rect x="505.8" y="412.9" width="5.1" height="60"/><rect x="500.7" y="414.1" width="5.1" height="58.8"/><rect x="495.6" y="430.3" width="5.1" height="42.6"/><rect x="490.5" y="437.9" width="5.1" height="35"/><rect x="485.4" y="449.9" width="5.1" height="23"/><rect x="480.3" y="447.8" width="5.1" height="25.1"/><rect x="475.2" y="443.4" width="5.1" height="29.5"/><rect x="470.1" y="460.9" width="5.1" height="12"/><rect x="465" y="463.1" width="5.1" height="9.8"/><rect x="459.9" y="469.9" width="5.1" height="3"/><rect x="454.8" y="470.9" width="5.1" height="2"/><rect x="449.7" y="471.9" width="5.1" height="1"/><rect x="444.6" y="472.4" width="5.1" height="0.5"/><rect x="526.2" y="393.2" width="5.1" height="79.7"/><rect x="531.3" y="397.8" width="5.1" height="75.1"/><rect x="536.4" y="384.2" width="5.1" height="88.7"/><rect x="541.5" y="409" width="5.1" height="63.9"/><rect x="546.6" y="415.9" width="5.1" height="57"/><rect x="551.7" y="442.2" width="5.1" height="30.7"/><rect x="556.8" y="442.2" width="5.1" height="30.7"/><rect x="561.9" y="445.3" width="5.1" height="27.6"/><rect x="567" y="451.4" width="5.1" height="21.5"/><rect x="572.1" y="459.6" width="5.1" height="13.3"/><rect x="577.2" y="462.7" width="5.1" height="10.2"/><rect x="582.3" y="466.9" width="5.1" height="6"/><rect x="587.4" y="469.9" width="5.1" height="3"/><rect x="592.5" y="471.4" width="5.1" height="1.5"/><rect x="597.6" y="472.3" width="5.1" height="0.6"/><rect x="602.7" y="472.3" width="5.1" height="0.6"/></g>
<g fill="rgba(255,165,0,0.6)" stroke="#000" stroke-width="0.85"><rect x="519.83" y="374.6" width="6.57" height="98.3"/><rect x="513.26" y="401.8" width="6.57" height="71.1"/><rect x="506.69" y="412.3" width="6.57" height="60.6"/><rect x="500.12" y="418.6" width="6.57" height="54.3"/><rect x="493.55" y="435.4" width="6.57" height="37.5"/><rect x="486.98" y="439" width="6.57" height="33.9"/><rect x="480.41" y="432" width="6.57" height="40.9"/><rect x="473.84" y="435.4" width="6.57" height="37.5"/><rect x="467.27" y="466.5" width="6.57" height="6.4"/><rect x="460.7" y="459.5" width="6.57" height="13.4"/><rect x="454.13" y="459.6" width="6.57" height="13.3"/><rect x="447.56" y="469.4" width="6.57" height="3.5"/><rect x="440.99" y="462.7" width="6.57" height="10.2"/><rect x="427.85" y="466.4" width="6.57" height="6.5"/><rect x="421.28" y="469.8" width="6.57" height="3.1"/><rect x="526.4" y="415.7" width="6.57" height="57.2"/><rect x="532.97" y="398.3" width="6.57" height="74.6"/><rect x="539.54" y="421.8" width="6.57" height="51.1"/><rect x="546.11" y="408.5" width="6.57" height="64.4"/><rect x="552.68" y="435.1" width="6.57" height="37.8"/><rect x="559.25" y="445.3" width="6.57" height="27.6"/><rect x="565.82" y="439.2" width="6.57" height="33.7"/><rect x="572.39" y="466.8" width="6.57" height="6.1"/><rect x="578.96" y="463.7" width="6.57" height="9.2"/><rect x="585.53" y="459.6" width="6.57" height="13.3"/><rect x="592.1" y="459.6" width="6.57" height="13.3"/><rect x="598.67" y="466.8" width="6.57" height="6.1"/><rect x="605.24" y="459.6" width="6.57" height="13.3"/><rect x="611.81" y="466.2" width="6.57" height="6.7"/></g>
<polyline fill="none" stroke="#0000ff" stroke-width="1.4" stroke-dasharray="5.3 2.3" points="434.42,472.84 434.92,472.83 435.42,472.82 435.92,472.82 436.42,472.81 436.92,472.8 437.42,472.79 437.92,472.78 438.42,472.77 438.92,472.76 439.42,472.75 439.92,472.74 440.42,472.72 440.92,472.71 441.42,472.69 441.92,472.68 442.42,472.66 442.92,472.64 443.42,472.62 443.92,472.59 444.42,472.57 444.92,472.54 445.42,472.52 445.92,472.49 446.42,472.45 446.92,472.42 447.42,472.38 447.92,472.35 448.42,472.3 448.92,472.26 449.42,472.21 449.92,472.16 450.42,472.11 450.92,472.06 451.42,472 451.92,471.93 452.42,471.87 452.92,471.8 453.42,471.72 453.92,471.64 454.42,471.56 454.92,471.47 455.42,471.37 455.92,471.27 456.42,471.16 456.92,471.05 457.42,470.93 457.92,470.8 458.42,470.67 458.92,470.52 459.42,470.37 459.92,470.2 460.42,470.02 460.92,469.84 461.42,469.64 461.92,469.42 462.42,469.2 462.92,468.95 463.42,468.69 463.92,468.42 464.42,468.12 464.92,467.81 465.42,467.48 465.92,467.12 466.42,466.75 466.92,466.35 467.42,465.93 467.92,465.49 468.42,465.02 468.92,464.54 469.42,464.03 469.92,463.5 470.42,462.95 470.92,462.39 471.42,461.8 471.92,461.2 472.42,460.59 472.92,459.96 473.42,459.33 473.92,458.69 474.42,458.05 474.92,457.4 475.42,456.76 475.92,456.12 476.42,455.49 476.92,454.87 477.42,454.27 477.92,453.68 478.42,453.1 478.92,452.54 479.42,452.01 479.92,451.49 480.42,450.99 480.92,450.51 481.42,450.06 481.92,449.62 482.42,449.19 482.92,448.79 483.42,448.39 483.92,448.01 484.42,447.64 484.92,447.27 485.42,446.91 485.92,446.54 486.42,446.17 486.92,445.8 487.42,445.42 487.92,445.03 488.42,444.62 488.92,444.2 489.42,443.76 489.92,443.3 490.42,442.82 490.92,442.31 491.42,441.79 491.92,441.24 492.42,440.67 492.92,440.07 493.42,439.45 493.92,438.8 494.42,438.14 494.92,437.45 495.42,436.74 495.92,436 496.42,435.25 496.92,434.48 497.42,433.69 497.92,432.89 498.42,432.07 498.92,431.23 499.42,430.38 499.92,429.51 500.42,428.63 500.92,427.74 501.42,426.82 501.92,425.9 502.42,424.95 502.92,423.99 503.42,423.01 503.92,422 504.42,420.98 504.92,419.92 505.42,418.83 505.92,417.71 506.42,416.55 506.92,415.35 507.42,414.1 507.92,412.8 508.42,411.45 508.92,410.03 509.42,408.54 509.92,406.99 510.42,405.36 510.92,403.65 511.42,401.86 511.92,399.99 512.42,398.03 512.92,395.99 513.42,393.87 513.92,391.68 514.42,389.4 514.92,387.07 515.42,384.68 515.92,382.24 516.42,379.77 516.92,377.28 517.42,374.79 517.92,372.31 518.42,369.87 518.92,367.49 519.42,365.19 519.92,362.99 520.42,360.91 520.92,358.97 521.42,357.2 521.92,355.61 522.42,354.23 522.92,353.06 523.42,352.13 523.92,351.45 524.42,351.02 524.92,350.85 525.42,350.94 525.92,351.3 526.42,351.91 526.92,352.78 527.42,353.89 527.92,355.22 528.42,356.77 528.92,358.52 529.42,360.45 529.92,362.53 530.42,364.74 530.92,367.07 531.42,369.49 531.92,371.98 532.42,374.52 532.92,377.08 533.42,379.66 533.92,382.22 534.42,384.75 534.92,387.25 535.42,389.69 535.92,392.07 536.42,394.38 536.92,396.61 537.42,398.75 537.92,400.81 538.42,402.78 538.92,404.66 539.42,406.45 539.92,408.16 540.42,409.78 540.92,411.32 541.42,412.79 541.92,414.18 542.42,415.51 542.92,416.78 543.42,417.98 543.92,419.13 544.42,420.24 544.92,421.29 545.42,422.31 545.92,423.29 546.42,424.23 546.92,425.14 547.42,426.03 547.92,426.88 548.42,427.71 548.92,428.52 549.42,429.31 549.92,430.07 550.42,430.82 550.92,431.55 551.42,432.27 551.92,432.97 552.42,433.65 552.92,434.32 553.42,434.98 553.92,435.62 554.42,436.25 554.92,436.88 555.42,437.49 555.92,438.09 556.42,438.69 556.92,439.28 557.42,439.86 557.92,440.44 558.42,441.02 558.92,441.59 559.42,442.16 559.92,442.73 560.42,443.3 560.92,443.86 561.42,444.43 561.92,445.01 562.42,445.58 562.92,446.16 563.42,446.74 563.92,447.32 564.42,447.91 564.92,448.51 565.42,449.11 565.92,449.71 566.42,450.32 566.92,450.93 567.42,451.55 567.92,452.16 568.42,452.78 568.92,453.41 569.42,454.03 569.92,454.65 570.42,455.28 570.92,455.9 571.42,456.51 571.92,457.13 572.42,457.74 572.92,458.34 573.42,458.94 573.92,459.53 574.42,460.11 574.92,460.67 575.42,461.23 575.92,461.78 576.42,462.31 576.92,462.83 577.42,463.34 577.92,463.83 578.42,464.31 578.92,464.77 579.42,465.21 579.92,465.64 580.42,466.05 580.92,466.45 581.42,466.83 581.92,467.19 582.42,467.53 582.92,467.86 583.42,468.18 583.92,468.47 584.42,468.76 584.92,469.02 585.42,469.27 585.92,469.51 586.42,469.74 586.92,469.95 587.42,470.15 587.92,470.33 588.42,470.51 588.92,470.67 589.42,470.83 589.92,470.97 590.42,471.1 590.92,471.23 591.42,471.35 591.92,471.45 592.42,471.56 592.92,471.65 593.42,471.74 593.92,471.82 594.42,471.9 594.92,471.97 595.42,472.03 595.92,472.09 596.42,472.15 596.92,472.2 597.42,472.25 597.92,472.3 598.42,472.34 598.92,472.38 599.42,472.42 599.92,472.45 600.42,472.48 600.92,472.51 601.42,472.54 601.92,472.57 602.42,472.59 602.92,472.61 603.42,472.63 603.92,472.65 604.42,472.67 604.92,472.69 605.42,472.7 605.92,472.72 606.42,472.73 606.92,472.74 607.42,472.75 607.92,472.76 608.42,472.77 608.92,472.78 609.42,472.79 609.92,472.8 610.42,472.81 610.92,472.81 611.42,472.82 611.92,472.83 612.42,472.83 612.92,472.84 613.42,472.84 613.92,472.85 614.42,472.85 614.92,472.85 615.42,472.86 615.92,472.86 616.42,472.86 616.92,472.87"/>
<polyline fill="none" stroke="#ffa500" stroke-width="1.4" stroke-dasharray="5.3 2.3" points="385.77,472.74 386.27,472.74 386.77,472.73 387.27,472.73 387.77,472.72 388.27,472.71 388.77,472.71 389.27,472.7 389.77,472.69 390.27,472.69 390.77,472.68 391.27,472.67 391.77,472.66 392.27,472.66 392.77,472.65 393.27,472.64 393.77,472.63 394.27,472.62 394.77,472.61 395.27,472.6 395.77,472.59 396.27,472.58 396.77,472.57 397.27,472.56 397.77,472.55 398.27,472.54 398.77,472.53 399.27,472.51 399.77,472.5 400.27,472.49 400.77,472.47 401.27,472.46 401.77,472.45 402.27,472.43 402.77,472.42 403.27,472.4 403.77,472.39 404.27,472.37 404.77,472.35 405.27,472.34 405.77,472.32 406.27,472.3 406.77,472.28 407.27,472.27 407.77,472.25 408.27,472.23 408.77,472.21 409.27,472.18 409.77,472.16 410.27,472.14 410.77,472.12 411.27,472.1 411.77,472.07 412.27,472.05 412.77,472.02 413.27,472 413.77,471.97 414.27,471.94 414.77,471.91 415.27,471.89 415.77,471.86 416.27,471.83 416.77,471.8 417.27,471.77 417.77,471.73 418.27,471.7 418.77,471.67 419.27,471.63 419.77,471.6 420.27,471.56 420.77,471.52 421.27,471.48 421.77,471.44 422.27,471.4 422.77,471.36 423.27,471.32 423.77,471.27 424.27,471.23 424.77,471.18 425.27,471.14 425.77,471.09 426.27,471.04 426.77,470.99 427.27,470.94 427.77,470.88 428.27,470.83 428.77,470.77 429.27,470.72 429.77,470.66 430.27,470.6 430.77,470.54 431.27,470.47 431.77,470.41 432.27,470.34 432.77,470.28 433.27,470.21 433.77,470.13 434.27,470.06 434.77,469.99 435.27,469.91 435.77,469.83 436.27,469.75 436.77,469.67 437.27,469.58 437.77,469.49 438.27,469.4 438.77,469.31 439.27,469.22 439.77,469.12 440.27,469.02 440.77,468.92 441.27,468.82 441.77,468.71 442.27,468.6 442.77,468.49 443.27,468.37 443.77,468.26 444.27,468.13 444.77,468.01 445.27,467.88 445.77,467.75 446.27,467.62 446.77,467.48 447.27,467.34 447.77,467.19 448.27,467.05 448.77,466.89 449.27,466.74 449.77,466.58 450.27,466.41 450.77,466.25 451.27,466.07 451.77,465.9 452.27,465.71 452.77,465.53 453.27,465.34 453.77,465.14 454.27,464.94 454.77,464.74 455.27,464.53 455.77,464.31 456.27,464.09 456.77,463.86 457.27,463.63 457.77,463.39 458.27,463.15 458.77,462.9 459.27,462.65 459.77,462.38 460.27,462.12 460.77,461.84 461.27,461.56 461.77,461.28 462.27,460.98 462.77,460.68 463.27,460.38 463.77,460.06 464.27,459.74 464.77,459.42 465.27,459.08 465.77,458.74 466.27,458.39 466.77,458.03 467.27,457.67 467.77,457.29 468.27,456.91 468.77,456.53 469.27,456.13 469.77,455.73 470.27,455.32 470.77,454.9 471.27,454.47 471.77,454.04 472.27,453.59 472.77,453.14 473.27,452.68 473.77,452.22 474.27,451.74 474.77,451.26 475.27,450.77 475.77,450.27 476.27,449.76 476.77,449.24 477.27,448.72 477.77,448.19 478.27,447.65 478.77,447.1 479.27,446.55 479.77,445.98 480.27,445.41 480.77,444.84 481.27,444.25 481.77,443.66 482.27,443.06 482.77,442.45 483.27,441.84 483.77,441.22 484.27,440.6 484.77,439.97 485.27,439.33 485.77,438.69 486.27,438.04 486.77,437.39 487.27,436.73 487.77,436.07 488.27,435.4 488.77,434.73 489.27,434.05 489.77,433.37 490.27,432.69 490.77,432.01 491.27,431.32 491.77,430.63 492.27,429.94 492.77,429.25 493.27,428.56 493.77,427.86 494.27,427.17 494.77,426.47 495.27,425.78 495.77,425.09 496.27,424.4 496.77,423.71 497.27,423.02 497.77,422.33 498.27,421.65 498.77,420.97 499.27,420.3 499.77,419.63 500.27,418.97 500.77,418.31 501.27,417.66 501.77,417.01 502.27,416.37 502.77,415.74 503.27,415.12 503.77,414.5 504.27,413.89 504.77,413.3 505.27,412.71 505.77,412.13 506.27,411.56 506.77,411.01 507.27,410.46 507.77,409.93 508.27,409.41 508.77,408.91 509.27,408.41 509.77,407.93 510.27,407.47 510.77,407.02 511.27,406.58 511.77,406.16 512.27,405.76 512.77,405.37 513.27,405 513.77,404.64 514.27,404.3 514.77,403.98 515.27,403.68 515.77,403.4 516.27,403.13 516.77,402.88 517.27,402.65 517.77,402.44 518.27,402.25 518.77,402.08 519.27,401.92 519.77,401.79 520.27,401.67 520.77,401.58 521.27,401.51 521.77,401.45 522.27,401.42 522.77,401.4 523.27,401.41 523.77,401.44 524.27,401.48 524.77,401.55 525.27,401.63 525.77,401.74 526.27,401.86 526.77,402.01 527.27,402.17 527.77,402.36 528.27,402.56 528.77,402.78 529.27,403.02 529.77,403.28 530.27,403.56 530.77,403.85 531.27,404.17 531.77,404.5 532.27,404.85 532.77,405.21 533.27,405.59 533.77,405.99 534.27,406.4 534.77,406.83 535.27,407.28 535.77,407.74 536.27,408.21 536.77,408.7 537.27,409.2 537.77,409.71 538.27,410.24 538.77,410.78 539.27,411.33 539.77,411.89 540.27,412.46 540.77,413.05 541.27,413.64 541.77,414.24 542.27,414.86 542.77,415.48 543.27,416.1 543.77,416.74 544.27,417.38 544.77,418.03 545.27,418.69 545.77,419.35 546.27,420.02 546.77,420.69 547.27,421.37 547.77,422.05 548.27,422.73 548.77,423.42 549.27,424.1 549.77,424.8 550.27,425.49 550.77,426.18 551.27,426.87 551.77,427.57 552.27,428.26 552.77,428.96 553.27,429.65 553.77,430.34 554.27,431.03 554.77,431.72 555.27,432.41 555.77,433.09 556.27,433.77 556.77,434.44 557.27,435.12 557.77,435.79 558.27,436.45 558.77,437.11 559.27,437.77 559.77,438.42 560.27,439.06 560.77,439.7 561.27,440.33 561.77,440.96 562.27,441.58 562.77,442.19 563.27,442.8 563.77,443.4 564.27,444 564.77,444.58 565.27,445.16 565.77,445.73 566.27,446.3 566.77,446.85 567.27,447.4 567.77,447.94 568.27,448.48 568.77,449 569.27,449.52 569.77,450.02 570.27,450.52 570.77,451.01 571.27,451.5 571.77,451.97 572.27,452.43 572.77,452.89 573.27,453.34 573.77,453.77 574.27,454.2 574.77,454.62 575.27,455.03 575.77,455.43 576.27,455.83 576.77,456.21 577.27,456.58 577.77,456.95 578.27,457.3 578.77,457.64 579.27,457.98 579.77,458.31 580.27,458.62 580.77,458.93 581.27,459.23 581.77,459.51 582.27,459.79 582.77,460.06 583.27,460.32 583.77,460.57 584.27,460.81 584.77,461.03 585.27,461.25 585.77,461.46 586.27,461.67 586.77,461.86 587.27,462.04 587.77,462.21 588.27,462.38 588.77,462.53 589.27,462.68 589.77,462.82 590.27,462.95 590.77,463.07 591.27,463.18 591.77,463.29 592.27,463.39 592.77,463.48 593.27,463.57 593.77,463.65 594.27,463.73 594.77,463.8 595.27,463.87 595.77,463.93 596.27,463.99 596.77,464.04 597.27,464.1 597.77,464.15 598.27,464.2 598.77,464.25 599.27,464.29 599.77,464.34 600.27,464.39 600.77,464.44 601.27,464.49 601.77,464.54 602.27,464.6 602.77,464.65 603.27,464.71 603.77,464.78 604.27,464.84 604.77,464.92 605.27,464.99 605.77,465.07 606.27,465.16 606.77,465.25 607.27,465.34 607.77,465.44 608.27,465.54 608.77,465.65 609.27,465.77 609.77,465.88 610.27,466.01 610.77,466.14 611.27,466.27 611.77,466.4 612.27,466.54 612.77,466.69 613.27,466.83 613.77,466.98 614.27,467.13 614.77,467.29 615.27,467.44 615.77,467.6 616.27,467.75 616.77,467.91 617.27,468.07 617.77,468.23 618.27,468.38 618.77,468.54 619.27,468.69 619.77,468.85 620.27,469 620.77,469.15 621.27,469.29 621.77,469.44 622.27,469.58 622.77,469.71 623.27,469.85 623.77,469.98 624.27,470.1 624.77,470.23 625.27,470.34 625.77,470.46 626.27,470.57 626.77,470.68 627.27,470.78 627.77,470.88 628.27,470.97 628.77,471.06 629.27,471.15 629.77,471.23 630.27,471.31 630.77,471.38 631.27,471.45 631.77,471.52 632.27,471.59 632.77,471.65 633.27,471.71 633.77,471.76 634.27,471.81 634.77,471.86 635.27,471.91 635.77,471.95 636.27,471.99 636.77,472.03 637.27,472.07 637.77,472.11 638.27,472.14 638.77,472.17 639.27,472.2 639.77,472.23 640.27,472.26 640.77,472.28 641.27,472.31 641.77,472.33 642.27,472.35 642.77,472.37 643.27,472.39 643.77,472.41 644.27,472.43 644.77,472.45 645.27,472.46 645.77,472.48 646.27,472.49 646.77,472.51 647.27,472.52 647.77,472.53 648.27,472.55 648.77,472.56 649.27,472.57 649.77,472.58 650.27,472.59 650.77,472.6"/>
<g stroke="#3a3a3a" stroke-width="0.8"><line x1="378.4" y1="472.9" x2="378.4" y2="476.1"/><line x1="415.26" y1="472.9" x2="415.26" y2="476.1"/><line x1="452.11" y1="472.9" x2="452.11" y2="476.1"/><line x1="488.97" y1="472.9" x2="488.97" y2="476.1"/><line x1="525.83" y1="472.9" x2="525.83" y2="476.1"/><line x1="562.68" y1="472.9" x2="562.68" y2="476.1"/><line x1="599.54" y1="472.9" x2="599.54" y2="476.1"/><line x1="636.39" y1="472.9" x2="636.39" y2="476.1"/><line x1="673.25" y1="472.9" x2="673.25" y2="476.1"/><line x1="375.2" y1="473" x2="378.4" y2="473"/><line x1="375.2" y1="432.72" x2="378.4" y2="432.72"/><line x1="375.2" y1="392.44" x2="378.4" y2="392.44"/><line x1="375.2" y1="352.16" x2="378.4" y2="352.16"/><line x1="375.2" y1="311.88" x2="378.4" y2="311.88"/><line x1="375.2" y1="271.6" x2="378.4" y2="271.6"/></g>
<rect x="378.4" y="253.3" width="294.85" height="219.6" fill="none" stroke="#3a3a3a" stroke-width="0.9"/>
<g class="tk"><text x="378.4" y="486.3" text-anchor="middle">−1.00</text><text x="415.26" y="486.3" text-anchor="middle">−0.75</text><text x="452.11" y="486.3" text-anchor="middle">−0.50</text><text x="488.97" y="486.3" text-anchor="middle">−0.25</text><text x="525.83" y="486.3" text-anchor="middle">0.00</text><text x="562.68" y="486.3" text-anchor="middle">0.25</text><text x="599.54" y="486.3" text-anchor="middle">0.50</text><text x="636.39" y="486.3" text-anchor="middle">0.75</text><text x="673.25" y="486.3" text-anchor="middle">1.00</text><text x="372.9" y="476.7" text-anchor="end">0</text><text x="372.9" y="436.42" text-anchor="end">1</text><text x="372.9" y="396.14" text-anchor="end">2</text><text x="372.9" y="355.86" text-anchor="end">3</text><text x="372.9" y="315.58" text-anchor="end">4</text><text x="372.9" y="275.3" text-anchor="end">5</text></g>
<text class="ax" style="font-size:13.2px" x="525.6" y="501.2" text-anchor="middle">Relative Error (%)</text>
<text class="ax" style="font-size:13.1px" transform="translate(361.8,362.9) rotate(-90)" text-anchor="middle">Data frequency</text>
<rect x="606.2" y="258.1" width="61.3" height="33.9" rx="2" ry="2" fill="#fff" fill-opacity="0.8" stroke="#d4d4d4" stroke-width="0.8"/>
<rect x="610" y="262.5" width="22.1" height="8.3" fill="rgba(0,0,255,0.6)" stroke="#000" stroke-width="0.9"/>
<rect x="610" y="277.8" width="22.1" height="8" fill="rgba(255,165,0,0.6)" stroke="#000" stroke-width="0.9"/>
<text class="lg" x="640.9" y="270.4">Train</text>
<text class="lg" x="640.9" y="285.3">Test</text>
<text class="tt" x="574.2" y="312.4">AdaBoost-DT</text>
</g>
<g>
<clipPath id="c5"><rect x="36" y="511" width="289" height="215"/></clipPath>
<g fill="rgba(0,0,255,0.6)" stroke="#000" stroke-width="0.85"><rect x="167" y="633.9" width="8.3" height="92.1"/><rect x="175.3" y="558.4" width="8.3" height="167.6"/><rect x="183.6" y="536.6" width="8.3" height="189.4"/><rect x="191.9" y="541.1" width="8.3" height="184.9"/><rect x="200.2" y="629.2" width="8.3" height="96.8"/><rect x="208.5" y="679.8" width="8.3" height="46.2"/><rect x="216.8" y="708.5" width="8.3" height="17.5"/><rect x="225.1" y="717.7" width="8.3" height="8.3"/><rect x="233.4" y="715.6" width="8.3" height="10.4"/><rect x="241.7" y="718.7" width="8.3" height="7.3"/><rect x="250" y="720.7" width="8.3" height="5.3"/><rect x="258.3" y="721.7" width="8.3" height="4.3"/><rect x="266.6" y="722.8" width="8.3" height="3.2"/><rect x="274.9" y="723.8" width="8.3" height="2.2"/><rect x="283.2" y="724.6" width="8.3" height="1.4"/><rect x="291.5" y="725.2" width="8.3" height="0.8"/><rect x="158.7" y="657.7" width="8.3" height="68.3"/><rect x="150.4" y="687.2" width="8.3" height="38.8"/><rect x="142.1" y="712.4" width="8.3" height="13.6"/><rect x="133.8" y="713" width="8.3" height="13"/><rect x="125.5" y="721.7" width="8.3" height="4.3"/><rect x="117.2" y="718.2" width="8.3" height="7.8"/><rect x="108.9" y="722.7" width="8.3" height="3.3"/><rect x="100.6" y="722.7" width="8.3" height="3.3"/><rect x="92.3" y="722.7" width="8.3" height="3.3"/><rect x="84" y="725" width="8.3" height="1"/><rect x="42.5" y="724.7" width="8.3" height="1.3"/></g>
<g fill="rgba(255,165,0,0.6)" stroke="#000" stroke-width="0.85"><rect x="172.6" y="549.9" width="6.4" height="176.1"/><rect x="179" y="564.2" width="6.4" height="161.8"/><rect x="185.4" y="545.8" width="6.4" height="180.2"/><rect x="191.8" y="521.2" width="6.4" height="204.8"/><rect x="198.2" y="640.4" width="6.4" height="85.6"/><rect x="204.6" y="649.8" width="6.4" height="76.2"/><rect x="211" y="673.7" width="6.4" height="52.3"/><rect x="217.4" y="702.3" width="6.4" height="23.7"/><rect x="223.8" y="702.3" width="6.4" height="23.7"/><rect x="230.2" y="711.5" width="6.4" height="14.5"/><rect x="236.6" y="716.6" width="6.4" height="9.4"/><rect x="243" y="718" width="6.4" height="8"/><rect x="249.4" y="721.7" width="6.4" height="4.3"/><rect x="255.8" y="723.8" width="6.4" height="2.2"/><rect x="262.2" y="721.7" width="6.4" height="4.3"/><rect x="268.6" y="724.2" width="6.4" height="1.8"/><rect x="275" y="716.6" width="6.4" height="9.4"/><rect x="281.4" y="723.8" width="6.4" height="2.2"/><rect x="287.8" y="724.2" width="6.4" height="1.8"/><rect x="166.2" y="654.8" width="6.4" height="71.2"/><rect x="159.8" y="659.5" width="6.4" height="66.5"/><rect x="153.4" y="668.9" width="6.4" height="57.1"/><rect x="147" y="712" width="6.4" height="14"/><rect x="140.6" y="712.6" width="6.4" height="13.4"/><rect x="134.2" y="711.4" width="6.4" height="14.6"/><rect x="127.8" y="724" width="6.4" height="2"/><rect x="115" y="721.3" width="6.4" height="4.7"/><rect x="89.4" y="721.3" width="6.4" height="4.7"/></g>
<polyline fill="none" stroke="#0000ff" stroke-width="1.4" stroke-dasharray="5.3 2.3" points="40.82,725.78 41.32,725.73 41.82,725.66 42.32,725.6 42.82,725.52 43.32,725.44 43.82,725.36 44.32,725.28 44.82,725.21 45.32,725.14 45.82,725.08 46.32,725.03 46.82,725 47.32,724.98 47.82,724.98 48.32,725 48.82,725.03 49.32,725.08 49.82,725.14 50.32,725.21 50.82,725.29 51.32,725.37 51.82,725.45 52.32,725.52 52.82,725.6 53.32,725.67 53.82,725.73"/>
<polyline fill="none" stroke="#0000ff" stroke-width="1.4" stroke-dasharray="5.3 2.3" points="80.31,725.92 80.81,725.91 81.31,725.9 81.81,725.89 82.31,725.88 82.81,725.87 83.31,725.86 83.81,725.84 84.31,725.83 84.81,725.81 85.31,725.79 85.81,725.77 86.31,725.75 86.81,725.73 87.31,725.71 87.81,725.68 88.31,725.65 88.81,725.63 89.31,725.59 89.81,725.56 90.31,725.53 90.81,725.49 91.31,725.45 91.81,725.41 92.31,725.37 92.81,725.32 93.31,725.27 93.81,725.22 94.31,725.17 94.81,725.11 95.31,725.06 95.81,725 96.31,724.93 96.81,724.87 97.31,724.8 97.81,724.73 98.31,724.66 98.81,724.59 99.31,724.52 99.81,724.44 100.31,724.36 100.81,724.28 101.31,724.2 101.81,724.12 102.31,724.03 102.81,723.95 103.31,723.86 103.81,723.77 104.31,723.68 104.81,723.6 105.31,723.51 105.81,723.42 106.31,723.33 106.81,723.25 107.31,723.16 107.81,723.07 108.31,722.99 108.81,722.9 109.31,722.82 109.81,722.74 110.31,722.66 110.81,722.58 111.31,722.5 111.81,722.42 112.31,722.35 112.81,722.27 113.31,722.2 113.81,722.13 114.31,722.06 114.81,721.99 115.31,721.92 115.81,721.85 116.31,721.77 116.81,721.7 117.31,721.63 117.81,721.56 118.31,721.48 118.81,721.4 119.31,721.32 119.81,721.23 120.31,721.14 120.81,721.04 121.31,720.94 121.81,720.83 122.31,720.71 122.81,720.59 123.31,720.46 123.81,720.32 124.31,720.17 124.81,720.01 125.31,719.84 125.81,719.66 126.31,719.48 126.81,719.28 127.31,719.07 127.81,718.85 128.31,718.62 128.81,718.37 129.31,718.12 129.81,717.86 130.31,717.59 130.81,717.31 131.31,717.02 131.81,716.72 132.31,716.42 132.81,716.1 133.31,715.78 133.81,715.45 134.31,715.12 134.81,714.78 135.31,714.44 135.81,714.08 136.31,713.73 136.81,713.37 137.31,713 137.81,712.63 138.31,712.25 138.81,711.86 139.31,711.47 139.81,711.07 140.31,710.66 140.81,710.24 141.31,709.81 141.81,709.36 142.31,708.91 142.81,708.43 143.31,707.94 143.81,707.44 144.31,706.91 144.81,706.36 145.31,705.78 145.81,705.18 146.31,704.56 146.81,703.9 147.31,703.22 147.81,702.5 148.31,701.75 148.81,700.97 149.31,700.15 149.81,699.29 150.31,698.39 150.81,697.46 151.31,696.49 151.81,695.47 152.31,694.42 152.81,693.32 153.31,692.18 153.81,691 154.31,689.78 154.81,688.51 155.31,687.21 155.81,685.85 156.31,684.46 156.81,683.02 157.31,681.54 157.81,680.01 158.31,678.44 158.81,676.83 159.31,675.17 159.81,673.46 160.31,671.71 160.81,669.91 161.31,668.06 161.81,666.16 162.31,664.22 162.81,662.22 163.31,660.18 163.81,658.08 164.31,655.93 164.81,653.73 165.31,651.48 165.81,649.17 166.31,646.81 166.81,644.39 167.31,641.93 167.81,639.41 168.31,636.84 168.81,634.22 169.31,631.55 169.81,628.83 170.31,626.07 170.81,623.27 171.31,620.43 171.81,617.55 172.31,614.64 172.81,611.71 173.31,608.76 173.81,605.79 174.31,602.81 174.81,599.83 175.31,596.85 175.81,593.88 176.31,590.93 176.81,588 177.31,585.11 177.81,582.27 178.31,579.47 178.81,576.73 179.31,574.07 179.81,571.47 180.31,568.97 180.81,566.56 181.31,564.26 181.81,562.07 182.31,560 182.81,558.06 183.31,556.26 183.81,554.6 184.31,553.09 184.81,551.75 185.31,550.57 185.81,549.56 186.31,548.72 186.81,548.07 187.31,547.6 187.81,547.31 188.31,547.21 188.81,547.31 189.31,547.6 189.81,548.07 190.31,548.74 190.81,549.6 191.31,550.65 191.81,551.89 192.31,553.3 192.81,554.9 193.31,556.66 193.81,558.6 194.31,560.69 194.81,562.95 195.31,565.35 195.81,567.89 196.31,570.57 196.81,573.37 197.31,576.29 197.81,579.32 198.31,582.44 198.81,585.66 199.31,588.95 199.81,592.32 200.31,595.75 200.81,599.23 201.31,602.75 201.81,606.31 202.31,609.89 202.81,613.48 203.31,617.08 203.81,620.68 204.31,624.26 204.81,627.83 205.31,631.37 205.81,634.87 206.31,638.34 206.81,641.76 207.31,645.12 207.81,648.43 208.31,651.67 208.81,654.84 209.31,657.93 209.81,660.95 210.31,663.89 210.81,666.75 211.31,669.52 211.81,672.2 212.31,674.79 212.81,677.28 213.31,679.69 213.81,682 214.31,684.22 214.81,686.35 215.31,688.38 215.81,690.32 216.31,692.17 216.81,693.93 217.31,695.6 217.81,697.18 218.31,698.68 218.81,700.1 219.31,701.44 219.81,702.7 220.31,703.88 220.81,704.99 221.31,706.03 221.81,707 222.31,707.91 222.81,708.76 223.31,709.54 223.81,710.27 224.31,710.95 224.81,711.58 225.31,712.15 225.81,712.69 226.31,713.18 226.81,713.63 227.31,714.04 227.81,714.42 228.31,714.76 228.81,715.08 229.31,715.37 229.81,715.63 230.31,715.87 230.81,716.08 231.31,716.28 231.81,716.46 232.31,716.62 232.81,716.76 233.31,716.9 233.81,717.02 234.31,717.13 234.81,717.23 235.31,717.33 235.81,717.41 236.31,717.49 236.81,717.57 237.31,717.64 237.81,717.71 238.31,717.78 238.81,717.84 239.31,717.91 239.81,717.97 240.31,718.03 240.81,718.1 241.31,718.16 241.81,718.23 242.31,718.29 242.81,718.36 243.31,718.43 243.81,718.51 244.31,718.58 244.81,718.66 245.31,718.74 245.81,718.82 246.31,718.9 246.81,718.99 247.31,719.08 247.81,719.17 248.31,719.27 248.81,719.37 249.31,719.47 249.81,719.57 250.31,719.67 250.81,719.78 251.31,719.89 251.81,720 252.31,720.11 252.81,720.22 253.31,720.34 253.81,720.46 254.31,720.57 254.81,720.69 255.31,720.81 255.81,720.93 256.31,721.05 256.81,721.17 257.31,721.29 257.81,721.41 258.31,721.54 258.81,721.66 259.31,721.78 259.81,721.9 260.31,722.01 260.81,722.13 261.31,722.25 261.81,722.36 262.31,722.48 262.81,722.59 263.31,722.7 263.81,722.81 264.31,722.92 264.81,723.03 265.31,723.14 265.81,723.24 266.31,723.34 266.81,723.44 267.31,723.54 267.81,723.63 268.31,723.73 268.81,723.82 269.31,723.9 269.81,723.99 270.31,724.08 270.81,724.16 271.31,724.24 271.81,724.31 272.31,724.39 272.81,724.46 273.31,724.53 273.81,724.6 274.31,724.67 274.81,724.73 275.31,724.79 275.81,724.85 276.31,724.91 276.81,724.96 277.31,725.01 277.81,725.07 278.31,725.11 278.81,725.16 279.31,725.21 279.81,725.25 280.31,725.29 280.81,725.33 281.31,725.37 281.81,725.4 282.31,725.44 282.81,725.47 283.31,725.5 283.81,725.53 284.31,725.56 284.81,725.58 285.31,725.61 285.81,725.63 286.31,725.66 286.81,725.68 287.31,725.7 287.81,725.72 288.31,725.74 288.81,725.75 289.31,725.77 289.81,725.79 290.31,725.8 290.81,725.81 291.31,725.83 291.81,725.84 292.31,725.85 292.81,725.86 293.31,725.87 293.81,725.88 294.31,725.89 294.81,725.9 295.31,725.9 295.81,725.91 296.31,725.92 296.81,725.92 297.31,725.93 297.81,725.94 298.31,725.94 298.81,725.94 299.31,725.95 299.81,725.95 300.31,725.96 300.81,725.96"/>
<polyline fill="none" stroke="#ffa500" stroke-width="1.4" stroke-dasharray="5.3 2.3" points="72.61,725.88 73.11,725.86 73.61,725.85 74.11,725.84 74.61,725.82 75.11,725.8 75.61,725.78 76.11,725.76 76.61,725.74 77.11,725.72 77.61,725.7 78.11,725.67 78.61,725.64 79.11,725.61 79.61,725.58 80.11,725.55 80.61,725.52 81.11,725.48 81.61,725.44 82.11,725.4 82.61,725.36 83.11,725.32 83.61,725.27 84.11,725.22 84.61,725.18 85.11,725.13 85.61,725.07 86.11,725.02 86.61,724.97 87.11,724.91 87.61,724.85 88.11,724.79 88.61,724.73 89.11,724.67 89.61,724.61 90.11,724.55 90.61,724.49 91.11,724.43 91.61,724.37 92.11,724.31 92.61,724.24 93.11,724.18 93.61,724.12 94.11,724.07 94.61,724.01 95.11,723.95 95.61,723.9 96.11,723.85 96.61,723.8 97.11,723.75 97.61,723.71 98.11,723.67 98.61,723.63 99.11,723.6 99.61,723.56 100.11,723.54 100.61,723.51 101.11,723.49 101.61,723.47 102.11,723.46 102.61,723.45 103.11,723.44 103.61,723.44 104.11,723.44 104.61,723.45 105.11,723.46 105.61,723.47 106.11,723.49 106.61,723.51 107.11,723.53 107.61,723.56 108.11,723.58 108.61,723.61 109.11,723.65 109.61,723.68 110.11,723.72 110.61,723.75 111.11,723.79 111.61,723.83 112.11,723.86 112.61,723.9 113.11,723.93 113.61,723.96 114.11,723.99 114.61,724.02 115.11,724.04 115.61,724.06 116.11,724.07 116.61,724.07 117.11,724.07 117.61,724.07 118.11,724.05 118.61,724.03 119.11,723.99 119.61,723.95 120.11,723.89 120.61,723.83 121.11,723.75 121.61,723.66 122.11,723.56 122.61,723.44 123.11,723.31 123.61,723.16 124.11,723 124.61,722.83 125.11,722.64 125.61,722.43 126.11,722.21 126.61,721.97 127.11,721.72 127.61,721.45 128.11,721.17 128.61,720.87 129.11,720.56 129.61,720.24 130.11,719.9 130.61,719.55 131.11,719.19 131.61,718.81 132.11,718.43 132.61,718.03 133.11,717.63 133.61,717.22 134.11,716.8 134.61,716.37 135.11,715.93 135.61,715.49 136.11,715.04 136.61,714.59 137.11,714.12 137.61,713.65 138.11,713.18 138.61,712.69 139.11,712.2 139.61,711.69 140.11,711.18 140.61,710.66 141.11,710.12 141.61,709.57 142.11,709.01 142.61,708.43 143.11,707.83 143.61,707.21 144.11,706.56 144.61,705.9 145.11,705.21 145.61,704.49 146.11,703.74 146.61,702.96 147.11,702.15 147.61,701.31 148.11,700.43 148.61,699.51 149.11,698.56 149.61,697.56 150.11,696.53 150.61,695.45 151.11,694.33 151.61,693.17 152.11,691.96 152.61,690.71 153.11,689.42 153.61,688.08 154.11,686.7 154.61,685.28 155.11,683.81 155.61,682.29 156.11,680.74 156.61,679.13 157.11,677.49 157.61,675.8 158.11,674.07 158.61,672.29 159.11,670.47 159.61,668.61 160.11,666.7 160.61,664.75 161.11,662.76 161.61,660.72 162.11,658.64 162.61,656.51 163.11,654.34 163.61,652.13 164.11,649.87 164.61,647.56 165.11,645.21 165.61,642.82 166.11,640.38 166.61,637.9 167.11,635.37 167.61,632.8 168.11,630.19 168.61,627.54 169.11,624.85 169.61,622.13 170.11,619.37 170.61,616.59 171.11,613.77 171.61,610.93 172.11,608.08 172.61,605.2 173.11,602.32 173.61,599.43 174.11,596.54 174.61,593.66 175.11,590.79 175.61,587.94 176.11,585.12 176.61,582.33 177.11,579.58 177.61,576.89 178.11,574.25 178.61,571.67 179.11,569.17 179.61,566.76 180.11,564.43 180.61,562.2 181.11,560.08 181.61,558.07 182.11,556.18 182.61,554.42 183.11,552.8 183.61,551.33 184.11,550 184.61,548.83 185.11,547.82 185.61,546.97 186.11,546.3 186.61,545.8 187.11,545.48 187.61,545.33 188.11,545.37 188.61,545.59 189.11,546 189.61,546.58 190.11,547.35 190.61,548.3 191.11,549.43 191.61,550.73 192.11,552.2 192.61,553.84 193.11,555.64 193.61,557.6 194.11,559.71 194.61,561.96 195.11,564.35 195.61,566.88 196.11,569.52 196.61,572.28 197.11,575.14 197.61,578.1 198.11,581.15 198.61,584.27 199.11,587.47 199.61,590.73 200.11,594.03 200.61,597.38 201.11,600.76 201.61,604.17 202.11,607.59 202.61,611.01 203.11,614.44 203.61,617.85 204.11,621.24 204.61,624.6 205.11,627.93 205.61,631.22 206.11,634.46 206.61,637.65 207.11,640.78 207.61,643.85 208.11,646.84 208.61,649.76 209.11,652.61 209.61,655.37 210.11,658.06 210.61,660.65 211.11,663.16 211.61,665.58 212.11,667.92 212.61,670.16 213.11,672.31 213.61,674.37 214.11,676.34 214.61,678.23 215.11,680.03 215.61,681.74 216.11,683.37 216.61,684.92 217.11,686.4 217.61,687.79 218.11,689.12 218.61,690.37 219.11,691.56 219.61,692.68 220.11,693.75 220.61,694.76 221.11,695.71 221.61,696.62 222.11,697.47 222.61,698.29 223.11,699.06 223.61,699.8 224.11,700.5 224.61,701.17 225.11,701.81 225.61,702.42 226.11,703.02 226.61,703.59 227.11,704.13 227.61,704.67 228.11,705.18 228.61,705.69 229.11,706.17 229.61,706.65 230.11,707.12 230.61,707.58 231.11,708.03 231.61,708.47 232.11,708.9 232.61,709.32 233.11,709.74 233.61,710.15 234.11,710.55 234.61,710.95 235.11,711.34 235.61,711.72 236.11,712.09 236.61,712.46 237.11,712.81 237.61,713.16 238.11,713.5 238.61,713.83 239.11,714.15 239.61,714.45 240.11,714.75 240.61,715.04 241.11,715.32 241.61,715.58 242.11,715.84 242.61,716.08 243.11,716.31 243.61,716.53 244.11,716.74 244.61,716.93 245.11,717.12 245.61,717.29 246.11,717.46 246.61,717.61 247.11,717.76 247.61,717.89 248.11,718.02 248.61,718.13 249.11,718.24 249.61,718.34 250.11,718.44 250.61,718.53 251.11,718.61 251.61,718.69 252.11,718.76 252.61,718.83 253.11,718.9 253.61,718.96 254.11,719.02 254.61,719.08 255.11,719.14 255.61,719.2 256.11,719.26 256.61,719.31 257.11,719.37 257.61,719.44 258.11,719.5 258.61,719.56 259.11,719.63 259.61,719.7 260.11,719.77 260.61,719.84 261.11,719.92 261.61,720 262.11,720.08 262.61,720.16 263.11,720.24 263.61,720.32 264.11,720.41 264.61,720.49 265.11,720.57 265.61,720.65 266.11,720.73 266.61,720.8 267.11,720.87 267.61,720.94 268.11,720.99 268.61,721.04 269.11,721.08 269.61,721.12 270.11,721.14 270.61,721.16 271.11,721.16 271.61,721.16 272.11,721.15 272.61,721.13 273.11,721.1 273.61,721.07 274.11,721.04 274.61,721.01 275.11,720.98 275.61,720.95 276.11,720.93 276.61,720.92 277.11,720.92 277.61,720.94 278.11,720.97 278.61,721.01 279.11,721.08 279.61,721.16 280.11,721.27 280.61,721.39 281.11,721.53 281.61,721.68 282.11,721.86 282.61,722.04 283.11,722.24 283.61,722.45 284.11,722.67 284.61,722.88 285.11,723.1 285.61,723.32 286.11,723.54 286.61,723.75 287.11,723.95 287.61,724.14 288.11,724.32 288.61,724.49 289.11,724.65 289.61,724.8 290.11,724.94 290.61,725.06 291.11,725.17 291.61,725.27 292.11,725.36 292.61,725.44 293.11,725.51 293.61,725.57 294.11,725.62 294.61,725.67 295.11,725.71 295.61,725.75 296.11,725.78 296.61,725.8 297.11,725.83 297.61,725.85 298.11,725.86 298.61,725.88 299.11,725.89 299.61,725.91 300.11,725.92 300.61,725.93 301.11,725.93 301.61,725.94 302.11,725.95 302.61,725.95 303.11,725.96 303.61,725.96"/>
<g stroke="#3a3a3a" stroke-width="0.8"><line x1="36" y1="726" x2="36" y2="729.2"/><line x1="84.17" y1="726" x2="84.17" y2="729.2"/><line x1="132.33" y1="726" x2="132.33" y2="729.2"/><line x1="180.5" y1="726" x2="180.5" y2="729.2"/><line x1="228.67" y1="726" x2="228.67" y2="729.2"/><line x1="276.83" y1="726" x2="276.83" y2="729.2"/><line x1="325" y1="726" x2="325" y2="729.2"/><line x1="32.8" y1="726" x2="36" y2="726"/><line x1="32.8" y1="683.48" x2="36" y2="683.48"/><line x1="32.8" y1="640.96" x2="36" y2="640.96"/><line x1="32.8" y1="598.44" x2="36" y2="598.44"/><line x1="32.8" y1="555.92" x2="36" y2="555.92"/><line x1="32.8" y1="513.4" x2="36" y2="513.4"/></g>
<rect x="36" y="511" width="289" height="215" fill="none" stroke="#3a3a3a" stroke-width="0.9"/>
<g class="tk"><text x="36" y="739.4" text-anchor="middle">−1.5</text><text x="84.17" y="739.4" text-anchor="middle">−1.0</text><text x="132.33" y="739.4" text-anchor="middle">−0.5</text><text x="180.5" y="739.4" text-anchor="middle">0.0</text><text x="228.67" y="739.4" text-anchor="middle">0.5</text><text x="276.83" y="739.4" text-anchor="middle">1.0</text><text x="325" y="739.4" text-anchor="middle">1.5</text><text x="30.5" y="729.7" text-anchor="end">0.0</text><text x="30.5" y="687.18" text-anchor="end">0.5</text><text x="30.5" y="644.66" text-anchor="end">1.0</text><text x="30.5" y="602.14" text-anchor="end">1.5</text><text x="30.5" y="559.62" text-anchor="end">2.0</text><text x="30.5" y="517.1" text-anchor="end">2.5</text></g>
<text class="ax" style="font-size:13px" x="180.7" y="753.2" text-anchor="middle">Relative Error (%)</text>
<text class="ax" style="font-size:12.85px" transform="translate(10.5,618.5) rotate(-90)" text-anchor="middle">Data frequency</text>
<rect x="259.3" y="516.1" width="60.1" height="33.5" rx="2" ry="2" fill="#fff" fill-opacity="0.8" stroke="#d4d4d4" stroke-width="0.8"/>
<rect x="262.9" y="520.5" width="21.8" height="7.5" fill="rgba(0,0,255,0.6)" stroke="#000" stroke-width="0.9"/>
<rect x="262.9" y="535.4" width="21.8" height="7.5" fill="rgba(255,165,0,0.6)" stroke="#000" stroke-width="0.9"/>
<text class="lg" x="293.1" y="527.7">Train</text>
<text class="lg" x="293.1" y="542.6">Test</text>
<text class="tt" x="256.3" y="569.2">TabNet</text>
</g>
<g>
<clipPath id="c6"><rect x="378.4" y="511.45" width="294.85" height="219.45"/></clipPath>
<g fill="rgba(0,0,255,0.6)" stroke="#000" stroke-width="0.85"><rect x="511.3" y="521.5" width="4.3" height="209.4"/><rect x="515.6" y="533.5" width="4.3" height="197.4"/><rect x="519.9" y="534.6" width="4.3" height="196.3"/><rect x="524.2" y="630.9" width="4.3" height="100"/><rect x="528.5" y="669.9" width="4.3" height="61"/><rect x="532.8" y="685.9" width="4.3" height="45"/><rect x="537.1" y="690.9" width="4.3" height="40"/><rect x="541.4" y="713.9" width="4.3" height="17"/><rect x="545.7" y="724.1" width="4.3" height="6.8"/><rect x="550" y="728.9" width="4.3" height="2"/><rect x="554.3" y="730.1" width="4.3" height="0.8"/><rect x="580.1" y="728.5" width="4.3" height="2.4"/><rect x="507" y="608.9" width="4.3" height="122"/><rect x="502.7" y="630.9" width="4.3" height="100"/><rect x="498.4" y="657.1" width="4.3" height="73.8"/><rect x="494.1" y="679.7" width="4.3" height="51.2"/><rect x="489.8" y="679.7" width="4.3" height="51.2"/><rect x="485.5" y="690.9" width="4.3" height="40"/><rect x="481.2" y="685.1" width="4.3" height="45.8"/><rect x="476.9" y="710.9" width="4.3" height="20"/><rect x="472.6" y="726.9" width="4.3" height="4"/><rect x="468.3" y="727.9" width="4.3" height="3"/><rect x="464" y="729.4" width="4.3" height="1.5"/></g>
<g fill="rgba(255,165,0,0.6)" stroke="#000" stroke-width="0.65"><rect x="461.19" y="729.4" width="2.81" height="1.5"/><rect x="463.99" y="727.9" width="2.81" height="3"/><rect x="466.8" y="715.8" width="2.81" height="15.1"/><rect x="469.61" y="724.1" width="2.81" height="6.8"/><rect x="472.41" y="728.9" width="2.81" height="2"/><rect x="475.22" y="708.6" width="2.81" height="22.3"/><rect x="478.03" y="710.9" width="2.81" height="20"/><rect x="480.84" y="720.9" width="2.81" height="10"/><rect x="483.64" y="715.9" width="2.81" height="15"/><rect x="486.45" y="671.7" width="2.81" height="59.2"/><rect x="489.26" y="692.9" width="2.81" height="38"/><rect x="492.06" y="685.9" width="2.81" height="45"/><rect x="494.87" y="682.9" width="2.81" height="48"/><rect x="497.68" y="663.9" width="2.81" height="67"/><rect x="500.48" y="701.5" width="2.81" height="29.4"/><rect x="503.29" y="625.4" width="2.81" height="105.5"/><rect x="506.1" y="573.1" width="2.81" height="157.8"/><rect x="508.91" y="573.1" width="2.81" height="157.8"/><rect x="511.71" y="580.9" width="2.81" height="150"/><rect x="514.52" y="587.9" width="2.81" height="143"/><rect x="517.33" y="528.1" width="2.81" height="202.8"/><rect x="520.13" y="580.7" width="2.81" height="150.2"/><rect x="522.94" y="618.3" width="2.81" height="112.6"/><rect x="525.75" y="618.3" width="2.81" height="112.6"/><rect x="528.55" y="655.6" width="2.81" height="75.3"/><rect x="531.36" y="655.6" width="2.81" height="75.3"/><rect x="534.17" y="678.5" width="2.81" height="52.4"/><rect x="536.98" y="655.6" width="2.81" height="75.3"/><rect x="539.78" y="686" width="2.81" height="44.9"/><rect x="542.59" y="713.9" width="2.81" height="17"/><rect x="545.4" y="725.9" width="2.81" height="5"/><rect x="548.2" y="708.6" width="2.81" height="22.3"/><rect x="551.01" y="724.1" width="2.81" height="6.8"/><rect x="553.82" y="727.9" width="2.81" height="3"/></g>
<polyline fill="none" stroke="#0000ff" stroke-width="1.4" stroke-dasharray="5.3 2.3" points="452.11,730.83 452.61,730.82 453.11,730.81 453.61,730.79 454.11,730.78 454.61,730.76 455.11,730.74 455.61,730.72 456.11,730.69 456.61,730.66 457.11,730.63 457.61,730.6 458.11,730.56 458.61,730.52 459.11,730.47 459.61,730.41 460.11,730.35 460.61,730.29 461.11,730.21 461.61,730.13 462.11,730.04 462.61,729.94 463.11,729.83 463.61,729.71 464.11,729.58 464.61,729.44 465.11,729.28 465.61,729.11 466.11,728.93 466.61,728.73 467.11,728.51 467.61,728.27 468.11,728.01 468.61,727.74 469.11,727.44 469.61,727.12 470.11,726.77 470.61,726.4 471.11,726.01 471.61,725.58 472.11,725.13 472.61,724.65 473.11,724.14 473.61,723.6 474.11,723.02 474.61,722.42 475.11,721.78 475.61,721.1 476.11,720.39 476.61,719.65 477.11,718.87 477.61,718.05 478.11,717.2 478.61,716.31 479.11,715.39 479.61,714.43 480.11,713.44 480.61,712.42 481.11,711.36 481.61,710.28 482.11,709.16 482.61,708.02 483.11,706.85 483.61,705.66 484.11,704.45 484.61,703.22 485.11,701.97 485.61,700.71 486.11,699.44 486.61,698.16 487.11,696.87 487.61,695.58 488.11,694.29 488.61,693.01 489.11,691.73 489.61,690.46 490.11,689.19 490.61,687.94 491.11,686.7 491.61,685.48 492.11,684.26 492.61,683.06 493.11,681.87 493.61,680.68 494.11,679.5 494.61,678.31 495.11,677.12 495.61,675.92 496.11,674.69 496.61,673.42 497.11,672.11 497.61,670.74 498.11,669.3 498.61,667.77 499.11,666.14 499.61,664.39 500.11,662.49 500.61,660.44 501.11,658.22 501.61,655.8 502.11,653.17 502.61,650.31 503.11,647.22 503.61,643.87 504.11,640.27 504.61,636.4 505.11,632.27 505.61,627.88 506.11,623.24 506.61,618.36 507.11,613.26 507.61,607.97 508.11,602.53 508.61,596.95 509.11,591.3 509.61,585.61 510.11,579.93 510.61,574.34 511.11,568.87 511.61,563.6 512.11,558.59 512.61,553.9 513.11,549.58 513.61,545.71 514.11,542.34 514.61,539.51 515.11,537.27 515.61,535.67 516.11,534.72 516.61,534.45 517.11,534.88 517.61,536 518.11,537.81 518.61,540.29 519.11,543.42 519.61,547.16 520.11,551.47 520.61,556.3 521.11,561.58 521.61,567.27 522.11,573.29 522.61,579.57 523.11,586.05 523.61,592.66 524.11,599.32 524.61,605.98 525.11,612.56 525.61,619.03 526.11,625.31 526.61,631.37 527.11,637.18 527.61,642.7 528.11,647.9 528.61,652.78 529.11,657.33 529.61,661.54 530.11,665.42 530.61,668.98 531.11,672.23 531.61,675.21 532.11,677.92 532.61,680.4 533.11,682.68 533.61,684.77 534.11,686.72 534.61,688.54 535.11,690.26 535.61,691.9 536.11,693.5 536.61,695.05 537.11,696.58 537.61,698.1 538.11,699.62 538.61,701.14 539.11,702.67 539.61,704.2 540.11,705.73 540.61,707.27 541.11,708.79 541.61,710.3 542.11,711.79 542.61,713.25 543.11,714.68 543.61,716.05 544.11,717.38 544.61,718.65 545.11,719.85 545.61,720.98 546.11,722.05 546.61,723.03 547.11,723.95 547.61,724.79 548.11,725.55 548.61,726.25 549.11,726.87 549.61,727.43 550.11,727.93 550.61,728.37 551.11,728.76 551.61,729.09 552.11,729.39 552.61,729.64 553.11,729.85 553.61,730.04 554.11,730.19 554.61,730.32 555.11,730.43 555.61,730.52 556.11,730.59 556.61,730.66 557.11,730.71 557.61,730.75 558.11,730.78 558.61,730.81 559.11,730.83 559.61,730.84 560.11,730.86 560.61,730.87 561.11,730.87 561.61,730.88 562.11,730.88 562.61,730.89 563.11,730.89 563.61,730.89 564.11,730.89 564.61,730.89 565.11,730.89 565.61,730.89 566.11,730.89 566.61,730.89 567.11,730.88 567.61,730.88 568.11,730.87 568.61,730.86 569.11,730.85 569.61,730.83 570.11,730.81 570.61,730.79 571.11,730.76 571.61,730.73 572.11,730.68 572.61,730.63 573.11,730.58 573.61,730.51 574.11,730.43 574.61,730.35 575.11,730.25 575.61,730.15 576.11,730.04 576.61,729.92 577.11,729.79 577.61,729.66 578.11,729.53 578.61,729.39 579.11,729.26 579.61,729.13 580.11,729.01 580.61,728.91 581.11,728.81 581.61,728.73 582.11,728.67 582.61,728.63 583.11,728.61 583.61,728.62 584.11,728.64 584.61,728.68 585.11,728.75 585.61,728.83 586.11,728.92 586.61,729.03 587.11,729.15 587.61,729.28 588.11,729.41 588.61,729.55 589.11,729.68 589.61,729.81 590.11,729.94 590.61,730.06 591.11,730.17 591.61,730.27 592.11,730.36 592.61,730.45 593.11,730.52 593.61,730.59 594.11,730.64 594.61,730.69 595.11,730.73 595.61,730.77 596.11,730.79 596.61,730.82 597.11,730.84 597.61,730.85 598.11,730.86 598.61,730.87 599.11,730.88"/>
<polyline fill="none" stroke="#ffa500" stroke-width="1.4" stroke-dasharray="5.3 2.3" points="449.16,730.9 449.66,730.9 450.16,730.9 450.66,730.9 451.16,730.9 451.66,730.9 452.16,730.9 452.66,730.9 453.16,730.9 453.66,730.9 454.16,730.9 454.66,730.89 455.16,730.89 455.66,730.89 456.16,730.89 456.66,730.89 457.16,730.88 457.66,730.88 458.16,730.87 458.66,730.86 459.16,730.85 459.66,730.84 460.16,730.83 460.66,730.81 461.16,730.79 461.66,730.76 462.16,730.73 462.66,730.69 463.16,730.65 463.66,730.59 464.16,730.53 464.66,730.45 465.16,730.37 465.66,730.26 466.16,730.14 466.66,730.01 467.16,729.85 467.66,729.67 468.16,729.46 468.66,729.23 469.16,728.97 469.66,728.67 470.16,728.34 470.66,727.97 471.16,727.56 471.66,727.11 472.16,726.62 472.66,726.08 473.16,725.5 473.66,724.87 474.16,724.19 474.66,723.47 475.16,722.7 475.66,721.89 476.16,721.03 476.66,720.13 477.16,719.2 477.66,718.23 478.16,717.24 478.66,716.22 479.16,715.18 479.66,714.13 480.16,713.08 480.66,712.02 481.16,710.96 481.66,709.92 482.16,708.89 482.66,707.87 483.16,706.89 483.66,705.93 484.16,704.99 484.66,704.09 485.16,703.22 485.66,702.38 486.16,701.56 486.66,700.77 487.16,700 487.66,699.23 488.16,698.48 488.66,697.71 489.16,696.93 489.66,696.13 490.16,695.29 490.66,694.4 491.16,693.45 491.66,692.42 492.16,691.31 492.66,690.09 493.16,688.77 493.66,687.32 494.16,685.74 494.66,684.02 495.16,682.15 495.66,680.13 496.16,677.94 496.66,675.6 497.16,673.09 497.66,670.41 498.16,667.58 498.66,664.59 499.16,661.45 499.66,658.18 500.16,654.77 500.66,651.24 501.16,647.61 501.66,643.89 502.16,640.1 502.66,636.25 503.16,632.36 503.66,628.45 504.16,624.55 504.66,620.66 505.16,616.82 505.66,613.04 506.16,609.34 506.66,605.74 507.16,602.27 507.66,598.93 508.16,595.75 508.66,592.73 509.16,589.91 509.66,587.28 510.16,584.87 510.66,582.68 511.16,580.73 511.66,579.01 512.16,577.53 512.66,576.31 513.16,575.33 513.66,574.61 514.16,574.14 514.66,573.92 515.16,573.94 515.66,574.2 516.16,574.7 516.66,575.42 517.16,576.35 517.66,577.5 518.16,578.84 518.66,580.37 519.16,582.08 519.66,583.95 520.16,585.97 520.66,588.13 521.16,590.42 521.66,592.83 522.16,595.35 522.66,597.96 523.16,600.65 523.66,603.42 524.16,606.25 524.66,609.13 525.16,612.05 525.66,615.02 526.16,618.01 526.66,621.02 527.16,624.04 527.66,627.07 528.16,630.1 528.66,633.12 529.16,636.14 529.66,639.14 530.16,642.12 530.66,645.08 531.16,648.01 531.66,650.91 532.16,653.78 532.66,656.61 533.16,659.4 533.66,662.15 534.16,664.86 534.66,667.52 535.16,670.13 535.66,672.7 536.16,675.21 536.66,677.66 537.16,680.06 537.66,682.4 538.16,684.69 538.66,686.91 539.16,689.08 539.66,691.18 540.16,693.22 540.66,695.2 541.16,697.11 541.66,698.96 542.16,700.74 542.66,702.46 543.16,704.11 543.66,705.7 544.16,707.22 544.66,708.68 545.16,710.08 545.66,711.41 546.16,712.68 546.66,713.89 547.16,715.04 547.66,716.14 548.16,717.17 548.66,718.15 549.16,719.08 549.66,719.95 550.16,720.77 550.66,721.55 551.16,722.27 551.66,722.95 552.16,723.59 552.66,724.18 553.16,724.74 553.66,725.25 554.16,725.73 554.66,726.18 555.16,726.59 555.66,726.98 556.16,727.33 556.66,727.66 557.16,727.96 557.66,728.23 558.16,728.49 558.66,728.72 559.16,728.93 559.66,729.13 560.16,729.31 560.66,729.47 561.16,729.61 561.66,729.75 562.16,729.87 562.66,729.98 563.16,730.08 563.66,730.17 564.16,730.25 564.66,730.32 565.16,730.39 565.66,730.44 566.16,730.5 566.66,730.54 567.16,730.59 567.66,730.62 568.16,730.66 568.66,730.69 569.16,730.71 569.66,730.74"/>
<g stroke="#3a3a3a" stroke-width="0.8"><line x1="378.4" y1="730.9" x2="378.4" y2="734.1"/><line x1="415.26" y1="730.9" x2="415.26" y2="734.1"/><line x1="452.11" y1="730.9" x2="452.11" y2="734.1"/><line x1="488.97" y1="730.9" x2="488.97" y2="734.1"/><line x1="525.83" y1="730.9" x2="525.83" y2="734.1"/><line x1="562.68" y1="730.9" x2="562.68" y2="734.1"/><line x1="599.54" y1="730.9" x2="599.54" y2="734.1"/><line x1="636.39" y1="730.9" x2="636.39" y2="734.1"/><line x1="673.25" y1="730.9" x2="673.25" y2="734.1"/><line x1="375.2" y1="730.8" x2="378.4" y2="730.8"/><line x1="375.2" y1="692.66" x2="378.4" y2="692.66"/><line x1="375.2" y1="654.52" x2="378.4" y2="654.52"/><line x1="375.2" y1="616.38" x2="378.4" y2="616.38"/><line x1="375.2" y1="578.24" x2="378.4" y2="578.24"/><line x1="375.2" y1="540.1" x2="378.4" y2="540.1"/></g>
<rect x="378.4" y="511.45" width="294.85" height="219.45" fill="none" stroke="#3a3a3a" stroke-width="0.9"/>
<g class="tk"><text x="378.4" y="744.3" text-anchor="middle">−1.00</text><text x="415.26" y="744.3" text-anchor="middle">−0.75</text><text x="452.11" y="744.3" text-anchor="middle">−0.50</text><text x="488.97" y="744.3" text-anchor="middle">−0.25</text><text x="525.83" y="744.3" text-anchor="middle">0.00</text><text x="562.68" y="744.3" text-anchor="middle">0.25</text><text x="599.54" y="744.3" text-anchor="middle">0.50</text><text x="636.39" y="744.3" text-anchor="middle">0.75</text><text x="673.25" y="744.3" text-anchor="middle">1.00</text><text x="372.9" y="734.5" text-anchor="end">0</text><text x="372.9" y="696.36" text-anchor="end">1</text><text x="372.9" y="658.22" text-anchor="end">2</text><text x="372.9" y="620.08" text-anchor="end">3</text><text x="372.9" y="581.94" text-anchor="end">4</text><text x="372.9" y="543.8" text-anchor="end">5</text></g>
<text class="ax" style="font-size:13.2px" x="525.3" y="759.5" text-anchor="middle">Relative Error (%)</text>
<text class="ax" style="font-size:13.1px" transform="translate(360.8,620.8) rotate(-90)" text-anchor="middle">Data frequency</text>
<rect x="606.2" y="516.3" width="61.3" height="34.2" rx="2" ry="2" fill="#fff" fill-opacity="0.8" stroke="#d4d4d4" stroke-width="0.8"/>
<rect x="610" y="521" width="22.1" height="7.9" fill="rgba(0,0,255,0.6)" stroke="#000" stroke-width="0.9"/>
<rect x="610" y="536.3" width="22.1" height="7.5" fill="rgba(255,165,0,0.6)" stroke="#000" stroke-width="0.9"/>
<text class="lg" x="640.9" y="528.6">Train</text>
<text class="lg" x="640.9" y="543.4">Test</text>
<text class="tt" x="617.6" y="569.7">DNN</text>
</g>
</svg>
</body></html>
